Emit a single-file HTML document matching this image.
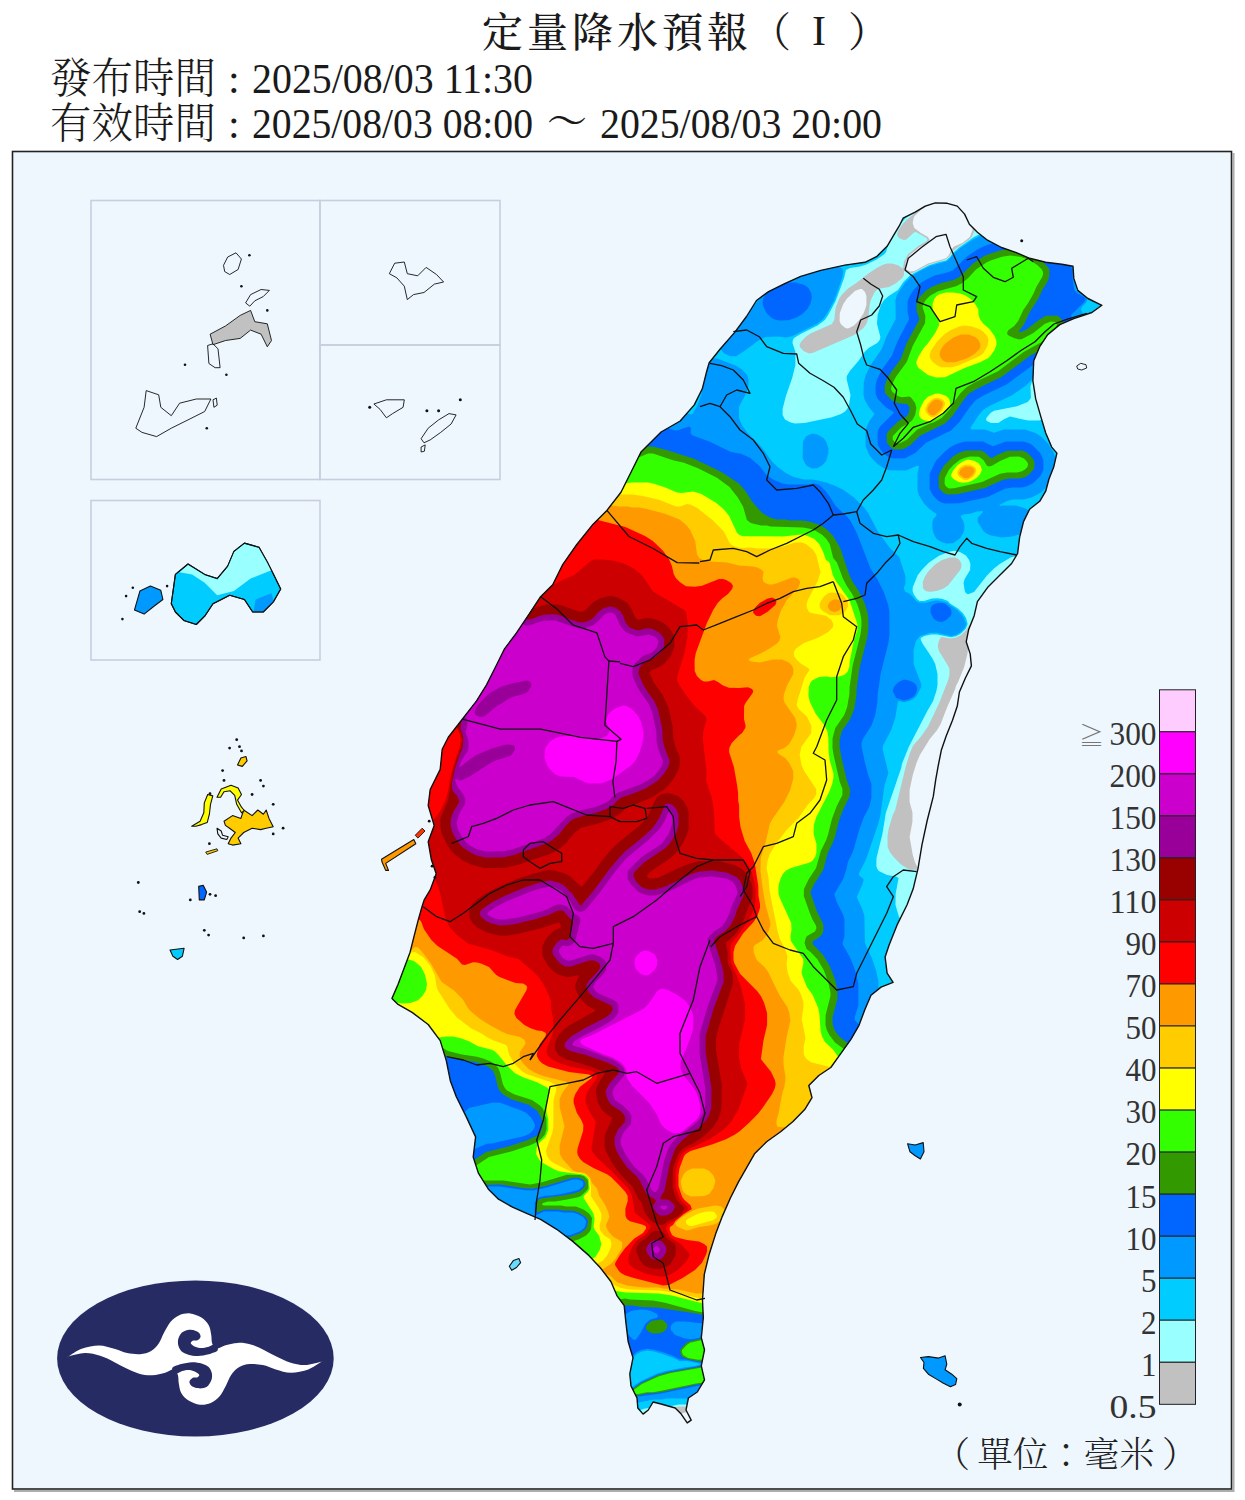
<!DOCTYPE html>
<html><head><meta charset="utf-8"><title>定量降水預報</title>
<style>
html,body{margin:0;padding:0;background:#fff;}
body{width:1245px;height:1500px;position:relative;overflow:hidden;font-family:"Liberation Serif","Noto Serif CJK SC",serif;}
</style></head><body>
<svg width="1245" height="1500" viewBox="0 0 1245 1500" style="position:absolute;left:0;top:0">
<defs><clipPath id="tw"><path d="M424.2,899.9 L430.2,889.9 L436.2,873.8 L431.4,859.8 L428.2,841.7 L434.2,825.6 L428.2,805.5 L430.2,789.5 L440.2,769.4 L442.2,749.3 L448.3,737.3 L462.3,719.2 L476.4,701.1 L486.4,685.1 L496.5,665.0 L504.5,648.9 L516.5,632.9 L528.6,614.8 L540.6,596.7 L552.7,584.7 L562.7,564.6 L576.8,544.5 L592.9,524.4 L606.9,510.4 L621.0,492.3 L631.0,472.2 L641.0,452.1 L661.1,432.0 L680.2,421.0 L694.3,404.9 L702.3,388.8 L706.3,372.8 L709.2,362.7 L720.4,348.7 L734.5,332.6 L746.5,316.5 L756.5,300.5 L768.6,291.6 L784.7,283.6 L800.7,276.4 L820.8,270.4 L844.9,265.1 L865.0,262.3 L877.0,256.3 L887.1,246.3 L893.1,236.2 L899.1,226.2 L903.1,218.2 L915.2,212.1 L925.2,206.1 L935.3,202.9 L947.3,203.3 L957.3,206.1 L964.6,214.1 L969.4,224.2 L977.4,232.2 L987.5,240.2 L1001.5,247.5 L1015.6,252.3 L1029.6,258.3 L1045.7,262.3 L1061.8,264.3 L1073.0,266.3 L1073.8,278.4 L1077.8,290.4 L1087.9,298.5 L1101.9,305.3 L1091.9,312.5 L1073.8,318.6 L1059.8,324.6 L1047.7,334.6 L1039.7,346.7 L1033.7,360.7 L1032.9,380.8 L1035.7,398.9 L1040.9,416.9 L1045.7,433.0 L1051.7,447.1 L1056.9,453.1 L1053.7,467.1 L1048.9,479.2 L1045.7,491.2 L1039.7,501.3 L1029.6,509.3 L1023.6,521.4 L1019.6,537.4 L1017.6,553.5 L1011.6,563.5 L999.5,575.6 L987.5,587.6 L977.4,601.7 L974.2,615.7 L968.6,629.8 L966.2,641.8 L970.2,653.9 L971.4,665.9 L965.4,678.0 L959.4,692.0 L957.3,706.1 L952.5,720.2 L946.1,736.2 L941.3,750.3 L938.1,766.3 L935.7,779.9 L933.3,796.4 L927.2,820.5 L922.0,844.6 L918.0,868.7 L913.2,888.8 L907.1,904.8 L897.1,924.9 L889.1,945.0 L885.1,957.0 L887.1,973.1 L893.1,982.3 L881.0,987.1 L871.0,995.2 L865.0,1009.2 L859.0,1025.3 L850.9,1039.4 L840.9,1053.4 L830.8,1067.5 L818.8,1075.5 L808.8,1085.5 L812.0,1097.6 L804.7,1109.6 L792.7,1121.7 L780.6,1131.7 L766.6,1141.8 L754.5,1153.8 L746.5,1167.9 L738.5,1181.9 L730.4,1198.0 L722.4,1216.1 L715.6,1234.1 L709.2,1254.2 L704.3,1274.3 L702.5,1300.0 L703.3,1317.7 L701.3,1337.8 L704.5,1349.8 L701.3,1365.9 L704.5,1379.9 L697.3,1392.0 L688.4,1398.0 L686.0,1410.0 L691.2,1420.1 L687.2,1422.9 L681.2,1414.1 L675.2,1408.0 L661.1,1404.0 L653.1,1402.0 L648.3,1410.0 L643.1,1414.1 L637.8,1408.0 L637.0,1398.0 L631.0,1385.9 L629.8,1373.9 L633.0,1357.8 L628.2,1341.8 L625.8,1321.7 L624.2,1305.6 L616.9,1295.6 L610.9,1281.5 L600.1,1267.5 L588.8,1255.4 L572.8,1241.4 L556.7,1229.3 L540.6,1219.3 L526.6,1213.3 L512.5,1207.2 L498.5,1199.2 L488.4,1189.2 L478.4,1173.1 L473.2,1157.0 L475.6,1136.9 L466.3,1116.9 L456.3,1096.8 L450.3,1080.7 L446.3,1060.6 L440.2,1040.6 L428.2,1024.5 L412.1,1012.4 L398.1,1004.4 L392.0,998.4 L398.1,984.3 L404.1,968.3 L410.1,952.2 L414.1,936.1 L418.2,920.1 L422.2,906.0Z"/></clipPath></defs>
<rect x="12.5" y="151.5" width="1219" height="1337.5" fill="#eef7fd" stroke="#222" stroke-width="1.6"/>
<path d="M14,1491 H1233.5 V153" fill="none" stroke="#777" stroke-width="2" opacity="0.6"/>
<rect x="91" y="200.5" width="229" height="279" fill="none" stroke="#c9cde0" stroke-width="1.6"/>
<rect x="320" y="200.5" width="180" height="144.5" fill="none" stroke="#c9cde0" stroke-width="1.6"/>
<rect x="320" y="345" width="180" height="134.5" fill="none" stroke="#c9cde0" stroke-width="1.6"/>
<rect x="91" y="500.5" width="229" height="159.5" fill="none" stroke="#c9cde0" stroke-width="1.6"/>
<g clip-path="url(#tw)">
<path d="M424.2,899.9 L430.2,889.9 L436.2,873.8 L431.4,859.8 L428.2,841.7 L434.2,825.6 L428.2,805.5 L430.2,789.5 L440.2,769.4 L442.2,749.3 L448.3,737.3 L462.3,719.2 L476.4,701.1 L486.4,685.1 L496.5,665.0 L504.5,648.9 L516.5,632.9 L528.6,614.8 L540.6,596.7 L552.7,584.7 L562.7,564.6 L576.8,544.5 L592.9,524.4 L606.9,510.4 L621.0,492.3 L631.0,472.2 L641.0,452.1 L661.1,432.0 L680.2,421.0 L694.3,404.9 L702.3,388.8 L706.3,372.8 L709.2,362.7 L720.4,348.7 L734.5,332.6 L746.5,316.5 L756.5,300.5 L768.6,291.6 L784.7,283.6 L800.7,276.4 L820.8,270.4 L844.9,265.1 L865.0,262.3 L877.0,256.3 L887.1,246.3 L893.1,236.2 L899.1,226.2 L903.1,218.2 L915.2,212.1 L925.2,206.1 L935.3,202.9 L947.3,203.3 L957.3,206.1 L964.6,214.1 L969.4,224.2 L977.4,232.2 L987.5,240.2 L1001.5,247.5 L1015.6,252.3 L1029.6,258.3 L1045.7,262.3 L1061.8,264.3 L1073.0,266.3 L1073.8,278.4 L1077.8,290.4 L1087.9,298.5 L1101.9,305.3 L1091.9,312.5 L1073.8,318.6 L1059.8,324.6 L1047.7,334.6 L1039.7,346.7 L1033.7,360.7 L1032.9,380.8 L1035.7,398.9 L1040.9,416.9 L1045.7,433.0 L1051.7,447.1 L1056.9,453.1 L1053.7,467.1 L1048.9,479.2 L1045.7,491.2 L1039.7,501.3 L1029.6,509.3 L1023.6,521.4 L1019.6,537.4 L1017.6,553.5 L1011.6,563.5 L999.5,575.6 L987.5,587.6 L977.4,601.7 L974.2,615.7 L968.6,629.8 L966.2,641.8 L970.2,653.9 L971.4,665.9 L965.4,678.0 L959.4,692.0 L957.3,706.1 L952.5,720.2 L946.1,736.2 L941.3,750.3 L938.1,766.3 L935.7,779.9 L933.3,796.4 L927.2,820.5 L922.0,844.6 L918.0,868.7 L913.2,888.8 L907.1,904.8 L897.1,924.9 L889.1,945.0 L885.1,957.0 L887.1,973.1 L893.1,982.3 L881.0,987.1 L871.0,995.2 L865.0,1009.2 L859.0,1025.3 L850.9,1039.4 L840.9,1053.4 L830.8,1067.5 L818.8,1075.5 L808.8,1085.5 L812.0,1097.6 L804.7,1109.6 L792.7,1121.7 L780.6,1131.7 L766.6,1141.8 L754.5,1153.8 L746.5,1167.9 L738.5,1181.9 L730.4,1198.0 L722.4,1216.1 L715.6,1234.1 L709.2,1254.2 L704.3,1274.3 L702.5,1300.0 L703.3,1317.7 L701.3,1337.8 L704.5,1349.8 L701.3,1365.9 L704.5,1379.9 L697.3,1392.0 L688.4,1398.0 L686.0,1410.0 L691.2,1420.1 L687.2,1422.9 L681.2,1414.1 L675.2,1408.0 L661.1,1404.0 L653.1,1402.0 L648.3,1410.0 L643.1,1414.1 L637.8,1408.0 L637.0,1398.0 L631.0,1385.9 L629.8,1373.9 L633.0,1357.8 L628.2,1341.8 L625.8,1321.7 L624.2,1305.6 L616.9,1295.6 L610.9,1281.5 L600.1,1267.5 L588.8,1255.4 L572.8,1241.4 L556.7,1229.3 L540.6,1219.3 L526.6,1213.3 L512.5,1207.2 L498.5,1199.2 L488.4,1189.2 L478.4,1173.1 L473.2,1157.0 L475.6,1136.9 L466.3,1116.9 L456.3,1096.8 L450.3,1080.7 L446.3,1060.6 L440.2,1040.6 L428.2,1024.5 L412.1,1012.4 L398.1,1004.4 L392.0,998.4 L398.1,984.3 L404.1,968.3 L410.1,952.2 L414.1,936.1 L418.2,920.1 L422.2,906.0Z" fill="#00ccff"/>
<path d="M424.2,899.9 L430.2,889.9 L436.2,873.8 L431.4,859.8 L428.2,841.7 L434.2,825.6 L428.2,805.5 L430.2,789.5 L440.2,769.4 L442.2,749.3 L448.3,737.3 L462.3,719.2 L476.4,701.1 L486.4,685.1 L496.5,665.0 L504.5,648.9 L516.5,632.9 L528.6,614.8 L540.6,596.7 L552.7,584.7 L562.7,564.6 L576.8,544.5 L592.9,524.4 L606.9,510.4 L621.0,492.3 L631.0,472.2 L641.0,452.1 L661.1,432.0 L680.2,421.0 L694.3,404.9 L702.3,388.8 L706.3,372.8 L709.2,362.7 L720.4,348.7 L734.5,332.6 L746.5,316.5 L756.5,300.5 L768.6,291.6 L784.7,283.6 L800.7,276.4 L820.8,270.4 L844.9,265.1 L865.0,262.3 L877.0,256.3 L887.1,246.3 L893.1,236.2 L899.1,226.2 L903.1,218.2 L915.2,212.1 L925.2,206.1 L935.3,202.9 L947.3,203.3 L957.3,206.1 L964.6,214.1 L969.4,224.2 L977.4,232.2 L987.5,240.2 L1001.5,247.5 L1015.6,252.3 L1029.6,258.3 L1045.7,262.3 L1061.8,264.3 L1073.0,266.3 L1073.8,278.4 L1077.8,290.4 L1087.9,298.5 L1101.9,305.3 L1091.9,312.5 L1073.8,318.6 L1059.8,324.6 L1047.7,334.6 L1039.7,346.7 L1033.7,360.7 L1032.9,380.8 L1035.7,398.9 L1040.9,416.9 L1045.7,433.0 L1051.7,447.1 L1056.9,453.1 L1053.7,467.1 L1048.9,479.2 L1045.7,491.2 L1039.7,501.3 L1029.6,509.3 L1023.6,521.4 L1019.6,537.4 L1017.6,553.5 L1011.6,563.5 L999.5,575.6 L987.5,587.6 L977.4,601.7 L974.2,615.7 L968.6,629.8 L966.2,641.8 L970.2,653.9 L971.4,665.9 L965.4,678.0 L959.4,692.0 L957.3,706.1 L952.5,720.2 L946.1,736.2 L941.3,750.3 L938.1,766.3 L935.7,779.9 L933.3,796.4 L927.2,820.5 L922.0,844.6 L918.0,868.7 L913.2,888.8 L907.1,904.8 L897.1,924.9 L889.1,945.0 L885.1,957.0 L887.1,973.1 L893.1,982.3 L881.0,987.1 L871.0,995.2 L865.0,1009.2 L859.0,1025.3 L850.9,1039.4 L840.9,1053.4 L830.8,1067.5 L818.8,1075.5 L808.8,1085.5 L812.0,1097.6 L804.7,1109.6 L792.7,1121.7 L780.6,1131.7 L766.6,1141.8 L754.5,1153.8 L746.5,1167.9 L738.5,1181.9 L730.4,1198.0 L722.4,1216.1 L715.6,1234.1 L709.2,1254.2 L704.3,1274.3 L702.5,1300.0 L703.3,1317.7 L701.3,1337.8 L704.5,1349.8 L701.3,1365.9 L704.5,1379.9 L697.3,1392.0 L688.4,1398.0 L686.0,1410.0 L691.2,1420.1 L687.2,1422.9 L681.2,1414.1 L675.2,1408.0 L661.1,1404.0 L653.1,1402.0 L648.3,1410.0 L643.1,1414.1 L637.8,1408.0 L637.0,1398.0 L631.0,1385.9 L629.8,1373.9 L633.0,1357.8 L628.2,1341.8 L625.8,1321.7 L624.2,1305.6 L616.9,1295.6 L610.9,1281.5 L600.1,1267.5 L588.8,1255.4 L572.8,1241.4 L556.7,1229.3 L540.6,1219.3 L526.6,1213.3 L512.5,1207.2 L498.5,1199.2 L488.4,1189.2 L478.4,1173.1 L473.2,1157.0 L475.6,1136.9 L466.3,1116.9 L456.3,1096.8 L450.3,1080.7 L446.3,1060.6 L440.2,1040.6 L428.2,1024.5 L412.1,1012.4 L398.1,1004.4 L392.0,998.4 L398.1,984.3 L404.1,968.3 L410.1,952.2 L414.1,936.1 L418.2,920.1 L422.2,906.0Z" fill="#eef7fd"/>
<path d="M1114.0,1434.2 374.8,1434.0 375.0,189.8 1114.2,190.0ZM914.4,271.0 928.0,263.5 946.0,258.2 949.0,255.1 951.1,250.0 954.0,246.6 962.3,243.0 969.8,237.0 972.5,230.0 972.4,226.0 971.2,221.0 967.0,212.6 961.8,207.0 953.0,202.8 946.0,201.6 942.0,201.6 935.3,203.0 925.5,207.0 920.9,210.0 914.7,216.0 913.6,218.0 912.7,223.0 914.3,228.0 921.0,233.1 928.0,236.9 929.7,240.0 928.0,242.6 920.0,246.9 910.9,254.0 908.9,256.0 907.0,259.5 905.6,263.0 905.9,269.0 910.0,271.4ZM849.3,328.0 854.0,325.4 859.4,320.0 863.7,313.0 865.2,309.0 866.4,305.0 866.4,296.0 865.0,291.9 862.0,289.0 860.0,288.9 854.9,291.0 847.0,298.5 843.3,304.0 839.8,313.0 839.6,321.0 840.8,324.0 845.0,327.7 847.0,328.4ZM930.0,878.0 931.3,874.0 931.5,866.0 934.1,847.0 934.3,841.0 938.4,814.0 940.4,805.0 965.4,709.0 975.0,678.3 979.1,659.0 983.9,632.0 986.2,612.0 987.0,597.0 986.0,594.6 985.0,594.4 981.9,599.0 978.0,608.3 975.7,621.0 970.6,628.0 967.4,654.0 964.2,667.0 958.1,682.0 955.9,686.0 955.2,689.0 946.8,708.0 940.7,724.0 937.0,730.3 929.8,739.0 919.9,755.0 916.5,763.0 912.8,775.0 909.6,790.0 909.6,802.0 912.4,812.0 912.5,815.0 912.4,822.0 909.6,837.0 912.8,855.0 914.9,862.0 916.8,866.0 923.0,875.2 927.0,878.5 929.0,878.7ZM691.4,1425.0 694.0,1423.6 695.3,1421.0 694.2,1416.0 693.0,1414.0 689.0,1411.8 683.0,1412.9 680.0,1414.8 679.6,1420.0 681.0,1422.2 684.0,1424.1Z" fill="#c1c1c1" fill-rule="evenodd"/>
<path d="M1114.0,1434.1 374.9,1434.0 375.0,189.9 1114.1,190.0ZM812.5,353.0 852.0,336.1 857.2,333.0 863.5,328.0 866.0,324.5 868.2,319.0 869.6,305.0 870.8,300.0 874.8,292.0 876.7,290.0 880.0,288.6 889.0,287.1 896.0,283.2 902.2,278.0 904.0,275.0 904.0,271.4 905.0,271.1 909.0,273.0 913.0,272.9 929.0,264.4 946.0,259.6 949.7,256.0 953.0,250.7 970.0,239.0 971.8,237.0 974.1,232.0 974.2,226.0 972.3,220.0 968.7,213.0 964.0,207.2 959.0,203.6 953.0,201.2 945.0,199.9 937.0,200.8 929.0,203.4 924.0,206.0 907.0,219.5 903.0,223.6 898.0,231.0 897.1,235.0 899.0,237.9 903.0,239.8 906.0,239.7 914.0,232.6 916.0,232.0 926.5,238.0 927.4,239.0 927.0,241.0 919.0,245.4 908.0,254.3 903.9,262.0 903.0,268.8 898.0,265.3 892.0,263.6 887.0,263.6 883.0,264.8 877.0,267.8 868.0,273.8 856.3,283.0 848.0,288.5 841.6,295.0 839.0,299.0 835.6,308.0 834.2,320.0 832.0,323.9 810.0,333.8 806.0,336.6 800.8,342.0 799.6,345.0 799.9,347.0 803.5,351.0 809.0,353.4ZM936.5,591.0 943.0,588.7 948.0,585.4 960.2,570.0 961.4,567.0 961.4,564.0 960.2,561.0 958.0,558.8 955.0,557.6 950.0,557.5 942.0,559.9 935.0,564.6 927.8,572.0 924.7,577.0 922.8,582.0 922.9,588.0 925.0,590.4 927.0,591.4 931.0,591.8ZM929.5,880.0 931.6,878.0 932.6,875.0 933.6,858.0 935.4,847.0 935.6,841.0 939.6,815.0 941.8,805.0 966.8,709.0 976.1,679.0 980.4,659.0 987.2,621.0 989.0,604.0 988.3,596.0 987.0,593.5 985.0,592.0 982.8,594.0 977.3,605.0 975.7,610.0 974.0,620.4 972.2,623.0 969.0,625.5 966.0,630.3 961.0,635.0 956.0,637.6 951.0,638.6 942.0,636.9 940.3,638.0 938.9,641.0 937.7,646.0 938.9,651.0 948.2,666.0 949.4,669.0 949.4,675.0 948.2,680.0 939.2,703.0 928.0,726.5 921.4,736.0 913.0,745.8 909.9,753.0 905.9,766.0 895.2,810.0 892.8,815.0 888.6,829.0 887.5,836.0 887.6,847.0 889.8,852.0 893.6,857.0 901.0,864.4 909.9,870.0 915.0,869.6 917.0,870.3 919.0,872.9 920.0,876.2 921.8,878.0 926.3,880.0ZM692.4,1426.0 695.5,1424.0 696.8,1422.0 697.0,1420.0 695.2,1414.0 689.8,1408.0 687.0,1406.5 683.0,1406.4 677.0,1406.8 673.8,1408.0 673.1,1410.0 677.0,1415.6 678.0,1421.0 680.0,1423.7 684.0,1425.6 689.0,1426.4Z" fill="#99ffff" fill-rule="evenodd"/>
<path d="M1114.0,1434.0 375.0,1434.0 375.0,190.0 1114.0,190.0ZM804.5,423.0 832.0,417.2 841.0,414.1 845.0,411.4 847.2,409.0 849.2,404.0 850.5,395.0 846.6,379.0 846.8,376.0 850.0,370.7 858.4,361.0 865.0,351.5 869.0,347.8 877.3,343.0 879.7,340.0 880.4,337.0 877.0,324.0 877.6,315.0 880.8,305.0 884.0,300.1 888.7,296.0 898.0,290.1 903.4,282.0 910.4,275.0 929.0,265.3 939.0,262.0 946.0,260.5 950.0,257.0 953.0,252.7 959.0,247.6 974.0,236.9 981.9,233.0 982.0,231.4 978.0,228.2 976.0,225.1 969.0,211.0 962.0,203.7 956.0,200.5 948.0,198.4 935.0,198.8 925.0,202.7 914.0,212.1 906.0,217.8 898.3,226.0 895.7,230.0 887.8,246.0 886.1,252.0 884.0,254.4 877.0,259.2 867.0,264.2 860.0,266.4 850.0,267.9 846.0,270.1 844.1,278.0 835.6,301.0 828.2,315.0 825.0,319.7 818.0,325.2 800.5,334.0 794.0,338.1 792.9,340.0 792.5,343.0 795.4,352.0 795.4,365.0 792.2,378.0 785.9,396.0 782.6,409.0 782.6,415.0 785.0,419.4 790.0,422.2 795.0,423.5ZM998.3,423.0 1004.0,419.3 1010.0,416.6 1028.0,420.5 1039.0,420.4 1043.4,419.0 1046.0,417.2 1048.5,411.0 1048.5,396.0 1047.5,390.0 1047.6,384.0 1048.5,380.0 1048.0,372.4 1047.0,372.0 1042.5,374.0 1031.9,382.0 1030.5,386.0 1030.9,398.0 1027.7,402.0 1017.0,406.2 994.0,410.8 990.5,413.0 986.3,418.0 986.1,420.0 986.9,421.0 991.0,423.1ZM902.0,918.0 905.2,913.0 918.0,881.4 919.0,880.8 926.0,881.8 930.0,881.3 932.0,879.8 933.6,877.0 936.9,841.0 940.9,815.0 946.0,792.6 953.6,766.0 957.0,750.6 962.6,732.0 968.0,709.6 977.5,679.0 987.8,628.0 990.6,612.0 990.9,602.0 990.7,599.0 987.5,590.0 989.5,587.0 1010.0,566.5 1018.0,559.5 1019.1,557.0 1018.0,555.8 1011.0,557.3 999.7,564.0 994.0,568.6 987.0,575.5 974.0,591.9 968.0,594.3 966.0,593.2 964.8,591.0 963.5,583.0 964.7,579.0 970.1,570.0 970.4,564.0 969.1,560.0 966.0,555.6 960.0,551.9 954.0,550.7 949.0,551.8 939.0,555.8 929.0,562.5 922.6,569.0 917.8,575.0 912.8,587.0 912.6,591.0 913.6,594.0 917.0,599.0 919.7,601.0 924.0,601.0 932.0,598.5 937.0,598.3 942.0,598.7 948.0,601.0 950.0,603.5 958.0,608.4 963.0,613.3 966.1,618.0 967.7,624.0 966.1,628.0 964.5,630.0 960.3,634.0 956.0,636.2 951.0,637.3 937.0,634.6 931.0,634.5 924.3,636.0 920.7,638.0 920.8,640.0 922.8,644.0 932.2,658.0 935.2,664.0 937.5,674.0 937.5,685.0 936.4,691.0 933.1,701.0 927.3,711.0 908.7,747.0 901.9,764.0 901.2,768.0 885.8,813.0 882.4,834.0 876.5,858.0 876.3,866.0 877.3,869.0 878.8,871.0 887.0,875.1 896.0,876.6 898.6,878.0 895.6,894.0 895.5,905.0 899.0,917.0 900.0,918.0ZM693.3,1427.0 696.0,1425.5 699.2,1422.0 701.1,1417.0 701.1,1415.0 699.2,1411.0 696.2,1408.0 687.0,1404.6 679.0,1404.6 669.0,1406.4 659.0,1406.6 644.0,1408.8 637.8,1411.0 633.6,1415.0 632.6,1417.0 633.8,1421.0 636.0,1423.2 640.0,1425.1 646.0,1426.4 655.0,1426.5 661.0,1427.5 683.0,1427.0 690.0,1427.8Z" fill="#00ccff" fill-rule="evenodd"/>
<path d="M953.0,543.2 946.0,543.4 941.0,541.7 936.6,539.0 934.0,534.4 932.6,530.0 932.3,523.0 933.3,519.0 936.1,516.0 936.6,514.0 930.0,509.4 924.0,503.5 918.8,495.0 917.5,490.0 917.5,474.0 919.0,466.0 917.0,465.8 906.0,470.4 889.0,470.2 883.5,468.0 878.0,464.4 871.6,458.0 868.8,454.0 865.6,446.0 865.6,430.0 868.8,422.0 874.5,414.0 868.8,407.0 864.8,400.0 863.5,395.0 863.8,382.0 865.8,375.0 870.7,365.0 881.7,349.0 886.3,337.0 895.7,319.0 895.5,300.0 896.8,295.0 905.0,282.9 911.8,276.0 920.0,271.0 930.2,266.0 947.0,261.3 954.0,253.8 960.6,248.0 974.0,238.9 987.0,232.5 1001.0,228.5 1019.0,228.5 1027.0,229.8 1039.0,233.7 1045.0,236.8 1055.0,243.6 1063.4,252.0 1070.0,262.9 1073.2,267.0 1074.3,270.0 1074.5,279.0 1076.0,289.4 1077.0,291.0 1079.9,293.0 1085.0,295.4 1086.6,297.0 1087.3,299.0 1086.6,302.0 1081.8,307.0 1080.9,309.0 1084.4,318.0 1084.2,332.0 1082.2,338.0 1078.2,346.0 1075.4,350.0 1068.0,357.4 1062.0,362.2 1054.0,367.2 1040.0,373.4 1032.3,379.0 1026.0,385.4 1012.0,395.2 990.0,405.7 983.0,409.9 978.8,415.0 970.3,428.0 970.7,429.0 972.0,429.4 985.0,429.6 994.0,432.7 1004.0,429.6 1025.0,429.5 1036.0,433.3 1041.0,436.6 1048.0,443.5 1053.3,452.0 1055.4,458.0 1055.2,473.0 1053.0,478.5 1049.4,484.0 1042.0,491.4 1038.0,494.2 1032.0,497.2 1024.0,499.4 1013.0,499.6 1007.0,500.9 999.5,505.0 1000.0,506.0 1003.0,505.5 1016.0,505.6 1026.0,508.8 1031.2,512.0 1033.2,515.0 1034.0,519.0 1032.1,525.0 1028.0,530.2 1020.0,534.2 1012.0,536.4 1002.0,537.5 990.0,535.2 986.0,533.2 983.0,530.5 977.8,522.0 977.6,519.0 978.3,517.0 982.3,513.0 983.0,511.0 977.0,511.6 971.0,513.4 963.0,514.6 961.0,515.8 960.9,517.0 963.2,521.0 964.4,525.0 964.2,530.0 962.7,534.0 960.0,538.2ZM736.0,356.2 730.0,356.2 724.0,353.2 720.3,349.0 719.6,347.0 719.9,345.0 724.5,340.0 735.0,331.2 757.0,301.8 767.0,290.8 772.0,286.8 785.0,279.8 802.0,273.8 806.0,273.1 822.0,266.8 828.0,265.6 833.0,265.6 839.0,266.8 842.4,269.0 843.4,271.0 842.4,277.0 836.2,295.0 834.0,300.4 827.0,313.5 823.1,319.0 816.5,324.0 792.0,336.3 786.0,337.5 779.0,336.5 765.7,337.0 758.0,340.8 744.0,351.2ZM710.0,1408.1 708.0,1407.8 704.0,1402.6 700.1,1400.0 693.0,1398.5 666.0,1398.5 662.0,1399.4 654.0,1399.6 636.0,1402.9 630.0,1406.0 626.7,1405.0 623.6,1402.0 623.1,1400.0 628.4,1394.0 629.2,1390.0 634.0,1385.6 642.0,1380.5 657.0,1373.5 665.0,1371.2 685.0,1367.2 695.1,1366.0 701.1,1364.0 687.0,1360.9 680.0,1361.3 673.5,1358.0 662.7,1354.0 654.0,1351.6 647.0,1350.6 641.0,1351.8 636.9,1354.0 632.9,1358.0 629.0,1366.2 628.0,1366.9 627.0,1366.6 624.5,1362.0 621.9,1354.0 621.4,1349.0 620.6,1348.0 605.0,1347.2 595.0,1344.2 585.0,1339.2 576.5,1333.0 549.3,1305.0 508.0,1278.2 464.0,1246.4 453.5,1237.0 439.6,1222.0 431.8,1211.0 426.7,1202.0 413.8,1175.0 401.8,1145.0 392.8,1118.0 388.8,1105.0 386.6,1095.0 386.5,1078.0 385.5,1074.0 383.0,1069.7 379.5,1066.0 378.0,1064.9 375.0,1064.5 375.0,744.0 375.0,740.5 379.7,729.0 394.8,702.0 429.2,652.0 507.8,525.0 534.2,484.0 550.8,456.0 562.8,438.0 572.6,425.0 583.5,414.0 589.0,409.8 601.0,403.8 612.0,400.6 632.0,400.6 647.0,405.4 662.0,405.6 686.0,413.2 691.0,414.4 692.6,414.0 697.1,406.0 701.2,395.0 705.8,366.0 707.8,362.0 710.0,359.6 712.0,358.6 715.0,358.5 718.0,358.8 736.0,365.7 742.0,369.6 747.1,375.0 748.4,379.0 748.4,386.0 745.7,394.0 738.9,407.0 738.9,418.0 741.9,425.0 747.0,432.3 761.4,447.0 772.0,461.5 777.0,466.4 785.8,473.0 793.6,477.0 804.0,479.4 812.0,479.6 818.0,480.6 827.0,482.8 835.0,485.8 843.0,489.8 854.0,497.6 864.0,507.5 868.2,513.0 877.5,531.0 890.0,548.3 899.2,557.0 905.4,576.0 905.4,584.0 903.7,588.0 905.0,591.6 909.0,593.6 912.0,596.0 916.1,601.0 919.0,602.8 926.0,602.8 934.0,600.7 938.0,600.6 946.0,602.3 957.0,609.9 961.2,614.0 964.1,618.0 966.0,624.0 965.0,627.3 963.7,629.0 959.4,633.0 955.4,635.0 951.0,636.0 937.0,632.7 930.0,632.7 920.0,635.9 915.9,641.0 913.6,650.0 913.6,664.0 921.2,684.0 921.2,687.0 916.6,696.0 913.0,699.2 909.0,701.1 904.0,702.2 899.0,701.0 898.0,701.4 895.2,718.0 891.2,730.0 882.9,746.0 882.6,749.0 888.4,773.0 884.6,785.0 880.4,815.0 878.2,824.0 866.2,859.0 858.7,874.0 859.6,876.0 863.0,878.6 863.6,880.0 862.2,885.0 856.7,897.0 862.2,909.0 864.4,916.0 864.9,943.0 872.2,959.0 876.2,971.0 878.4,981.0 878.5,1009.0 880.0,1010.7 894.0,1016.7 900.3,1021.0 908.4,1029.0 912.7,1035.0 918.2,1046.0 920.4,1053.0 920.5,1077.0 919.2,1083.0 911.3,1103.0 901.0,1123.5 889.2,1145.0 840.8,1227.0 814.2,1274.0 785.0,1321.3 775.0,1334.5 761.5,1348.0 756.0,1352.2 748.0,1356.2 735.0,1360.2 715.0,1360.6 710.6,1363.0 710.5,1364.0 713.6,1366.0 715.8,1369.0 716.5,1372.0 715.0,1379.0 719.0,1383.7 720.7,1387.0 721.5,1393.0 721.2,1396.0 719.0,1401.3 714.3,1406.0ZM817.0,468.2 812.0,468.4 807.0,466.1 805.3,464.0 802.6,458.0 803.0,441.6 806.0,436.6 809.0,434.8 813.0,433.6 818.0,434.8 823.5,438.0 826.3,442.0 828.4,448.0 828.4,453.0 826.2,461.0 822.0,465.4Z" fill="#0099ff" fill-rule="evenodd"/>
<path d="M905.0,458.2 893.0,458.5 889.0,457.3 886.0,455.4 881.0,450.5 877.8,445.0 877.5,433.0 878.7,429.0 880.6,426.0 893.7,413.0 893.7,412.0 886.0,407.4 877.8,399.0 875.6,394.0 875.5,386.0 876.8,380.0 881.7,370.0 891.7,356.0 897.7,341.0 908.7,320.0 909.0,318.0 907.5,312.0 907.6,301.0 910.3,295.0 913.6,290.0 920.0,283.6 926.0,279.7 934.0,275.8 948.0,272.2 953.0,270.2 967.0,256.6 977.0,249.8 985.0,245.8 1002.0,240.6 1018.0,240.6 1032.0,243.8 1040.0,247.8 1046.0,251.8 1056.0,261.1 1062.0,261.8 1068.0,263.8 1071.1,267.0 1072.4,270.0 1072.7,280.0 1074.3,290.0 1077.0,293.3 1084.1,297.0 1085.0,298.0 1085.4,300.0 1084.0,302.2 1071.1,315.0 1072.4,320.0 1072.4,329.0 1070.7,334.0 1066.4,342.0 1060.0,348.4 1054.3,353.0 1036.0,362.8 1007.0,384.2 985.0,394.7 975.8,400.0 970.0,406.7 959.4,422.0 951.0,430.4 926.0,442.8 915.3,453.0ZM788.0,320.2 779.0,320.4 774.0,319.2 771.0,317.4 766.6,313.0 764.8,310.0 762.6,304.0 763.0,298.4 766.3,294.0 772.0,289.0 782.1,284.0 788.0,282.6 796.0,282.5 805.0,285.3 808.4,288.0 811.2,293.0 811.8,298.0 810.3,304.0 807.4,309.0 802.3,314.0 796.0,317.7ZM628.0,1363.5 626.9,1363.0 623.8,1354.0 623.1,1348.0 621.7,1345.0 619.3,1329.0 618.5,1328.0 609.0,1327.4 604.0,1326.2 599.0,1324.3 593.7,1321.0 588.0,1316.5 562.0,1289.6 554.0,1283.8 520.0,1262.2 488.7,1240.0 469.0,1224.4 455.6,1210.0 447.8,1199.0 436.7,1178.0 420.8,1139.0 407.6,1097.0 406.5,1091.0 406.5,1075.0 405.1,1066.0 398.4,1057.0 385.0,1043.6 383.0,1043.0 375.0,1044.5 375.0,1043.0 375.0,818.5 382.8,780.0 386.8,766.0 392.8,749.0 398.7,735.0 410.8,714.0 445.2,664.0 523.8,537.0 550.2,496.0 566.8,468.0 578.8,450.0 588.6,437.0 596.7,429.0 601.0,425.8 607.0,422.8 617.0,420.5 629.0,420.6 637.0,422.8 643.0,425.4 659.0,425.6 675.0,430.4 678.0,430.2 689.0,426.6 691.0,428.0 690.6,433.0 692.0,435.3 710.0,441.8 731.0,452.1 741.0,453.8 750.0,457.8 759.5,466.0 766.5,475.0 774.0,480.1 782.0,483.2 788.0,484.4 808.0,484.5 814.0,483.5 819.0,484.8 825.0,490.5 829.4,496.0 835.6,506.0 847.4,517.0 851.2,522.0 857.2,534.0 870.3,568.0 877.2,579.0 884.0,592.6 888.2,605.0 889.4,612.0 889.5,634.0 888.4,643.0 880.6,674.0 877.6,695.0 877.4,702.0 875.2,715.0 871.3,726.0 862.8,739.0 861.5,743.0 861.6,747.0 864.8,762.0 867.9,774.0 871.4,784.0 871.4,798.0 869.2,807.0 863.9,817.0 859.8,828.0 853.2,851.0 847.9,862.0 846.2,870.0 843.2,879.0 834.3,894.0 836.8,902.0 843.0,914.6 844.4,919.0 844.5,936.0 842.6,943.0 842.9,945.0 849.3,956.0 853.2,965.0 856.2,974.0 858.4,984.0 858.4,1005.0 854.8,1017.0 854.7,1020.0 859.0,1024.4 866.0,1029.1 872.0,1029.6 880.0,1031.8 884.0,1033.8 889.0,1037.6 896.2,1046.0 899.2,1052.0 900.5,1058.0 900.5,1074.0 899.2,1080.0 892.7,1096.0 884.7,1112.0 873.2,1133.0 824.8,1215.0 798.2,1262.0 775.2,1300.0 759.4,1322.0 749.0,1332.4 742.0,1337.2 731.0,1340.4 715.2,1341.0 715.6,1355.0 713.8,1359.0 709.0,1362.2 700.0,1362.4 686.0,1359.6 680.0,1359.4 674.0,1356.3 664.0,1352.5 654.0,1349.7 647.0,1348.7 641.0,1349.9 636.0,1352.4 631.4,1357.0ZM959.0,503.2 945.0,503.5 941.0,502.3 938.0,500.4 932.6,495.0 929.6,489.0 929.6,474.0 934.7,463.0 936.6,460.0 945.5,451.0 951.0,446.8 957.0,443.8 965.0,441.5 983.0,441.6 993.0,446.3 1006.0,441.6 1023.0,441.5 1028.0,442.8 1032.0,444.8 1040.2,453.0 1043.4,460.0 1043.4,470.0 1040.4,476.0 1033.0,483.2 1027.0,486.2 1022.0,487.4 1012.0,487.5 1005.0,488.8 987.0,497.2ZM942.0,622.1 938.0,621.5 933.8,619.0 930.6,613.0 930.6,608.0 931.6,606.0 934.0,604.3 938.0,602.9 942.3,603.0 945.5,604.0 950.1,608.0 951.4,611.0 951.4,614.0 950.4,616.0 946.3,620.0ZM905.0,700.2 903.0,700.2 896.2,698.0 892.7,691.0 893.9,687.0 896.0,684.5 899.0,681.8 904.0,679.6 910.0,680.8 914.0,682.8 916.1,685.0 917.3,689.0 916.0,693.5 914.0,696.2 909.5,699.0ZM472.3,1150.0 487.0,1143.8 492.0,1143.4 524.0,1136.2 530.0,1133.2 533.4,1130.0 535.0,1126.0 534.7,1124.0 531.4,1118.0 526.0,1112.8 520.0,1109.9 500.0,1102.8 493.0,1102.6 469.0,1107.9 465.0,1111.8 463.6,1115.0 463.5,1136.0 464.9,1144.0 466.8,1148.0 469.0,1150.1ZM570.7,1235.0 580.5,1231.0 584.1,1228.0 585.2,1226.0 586.1,1221.0 583.1,1217.0 577.5,1214.0 573.0,1212.6 563.0,1212.4 558.0,1211.5 544.0,1211.6 536.0,1215.3 534.7,1213.0 534.7,1203.0 536.5,1199.0 540.0,1196.9 545.0,1195.7 552.0,1195.4 564.0,1193.4 578.4,1190.0 583.0,1186.0 583.4,1183.0 582.0,1181.0 578.0,1179.6 573.0,1179.6 545.0,1188.1 533.0,1190.4 526.0,1190.3 500.0,1186.5 488.0,1186.5 486.0,1187.4 486.0,1189.0 489.0,1193.0 496.9,1200.0 506.0,1207.1 522.5,1217.0 531.0,1221.2 535.0,1221.6 547.0,1227.8 557.0,1234.2 562.0,1235.5ZM636.4,1339.0 641.2,1332.0 645.3,1324.0 650.0,1319.8 657.0,1317.8 658.0,1316.0 656.9,1314.0 651.0,1310.9 646.0,1309.8 640.0,1309.6 631.0,1310.9 626.0,1314.1 624.6,1317.0 624.6,1322.0 627.8,1333.0 629.6,1336.0 633.0,1339.6 635.0,1339.9ZM693.8,1339.0 702.0,1337.3 711.8,1337.0 712.4,1332.0 711.0,1327.9 708.1,1325.0 705.0,1323.8 685.0,1321.5 676.0,1321.6 673.3,1323.0 671.4,1325.0 670.6,1327.0 670.9,1330.0 675.0,1335.1 685.0,1338.4 690.0,1339.2ZM640.0,1396.2 635.0,1396.8 632.0,1396.0 630.0,1393.0 630.5,1390.0 641.0,1382.3 658.0,1374.4 669.0,1371.4 704.0,1365.1 711.0,1365.4 714.6,1369.0 715.3,1372.0 714.8,1375.0 712.5,1381.0 711.0,1382.6 707.0,1384.5 697.0,1385.9 661.0,1393.6Z" fill="#0166ff" fill-rule="evenodd"/>
<path d="M903.0,449.2 894.0,449.4 891.5,448.0 886.9,443.0 886.6,434.0 888.0,431.5 898.0,421.6 907.0,415.9 909.1,412.0 909.4,407.0 907.0,403.9 898.0,403.2 892.0,400.4 884.9,393.0 884.6,387.0 885.8,382.0 889.8,374.0 900.7,359.0 906.7,343.0 919.1,320.0 919.1,318.0 916.6,311.0 916.5,304.0 917.3,301.0 920.0,296.7 926.0,290.6 932.0,286.7 942.0,282.8 953.0,280.2 959.0,277.2 973.0,263.6 983.0,256.8 987.0,254.8 999.0,250.8 1006.0,249.5 1015.0,249.5 1022.0,250.6 1031.0,253.3 1040.3,259.0 1048.7,268.0 1049.5,271.0 1049.2,277.0 1047.3,282.0 1042.3,290.0 1038.2,299.0 1029.8,312.0 1024.2,324.0 1019.1,331.0 1019.6,332.0 1021.0,332.1 1027.0,329.2 1039.0,319.8 1046.0,315.8 1057.0,315.6 1060.5,318.0 1063.4,322.0 1063.2,328.0 1060.0,335.3 1054.5,341.0 1048.3,346.0 1030.0,355.8 1001.0,377.2 979.0,387.7 969.8,393.0 966.0,396.7 952.4,416.0 945.0,423.4 920.0,435.8 910.0,445.4ZM726.0,1319.2 723.0,1319.4 718.0,1318.5 711.0,1319.4 705.0,1315.9 699.0,1314.0 657.0,1307.6 644.0,1307.2 632.0,1305.5 624.0,1305.5 616.0,1306.5 609.0,1304.7 603.0,1300.5 576.3,1273.0 565.0,1264.8 531.0,1243.2 491.0,1214.4 480.5,1205.0 470.8,1194.0 462.3,1180.0 452.8,1160.0 440.8,1130.0 429.8,1096.0 427.6,1086.0 427.5,1069.0 426.4,1061.0 424.7,1056.0 421.2,1050.0 414.0,1041.5 398.0,1025.5 385.0,1014.8 383.0,1014.4 378.5,1020.0 375.0,1022.4 375.0,955.5 382.4,923.0 388.4,892.0 390.4,879.0 393.6,841.0 396.6,820.0 403.6,787.0 407.8,772.0 417.8,746.0 429.8,725.0 464.2,675.0 542.8,548.0 569.2,507.0 585.8,479.0 595.8,464.0 604.6,452.0 611.0,445.6 616.0,442.8 621.0,441.6 626.0,442.3 630.0,441.9 643.0,447.4 649.0,446.5 654.0,446.8 669.0,450.8 694.0,458.8 721.0,471.8 739.0,483.6 746.0,491.7 751.8,501.0 757.6,508.0 763.0,513.4 769.0,517.1 776.0,519.4 785.0,519.5 790.0,520.5 802.0,520.5 809.0,521.6 820.0,524.9 826.0,528.8 833.0,535.7 840.3,548.0 849.3,575.0 852.8,582.0 858.7,591.0 864.2,602.0 867.2,611.0 868.4,618.0 868.5,628.0 867.4,637.0 859.6,668.0 856.6,689.0 856.4,696.0 854.2,709.0 850.2,719.0 841.9,731.0 839.6,740.0 839.6,747.0 841.6,758.0 846.8,780.0 850.4,790.0 849.4,797.0 843.8,808.0 838.9,821.0 835.2,836.0 833.2,842.0 827.8,853.0 823.2,870.0 814.3,884.0 810.9,891.0 810.6,893.0 816.8,911.0 822.7,923.0 823.5,926.0 823.4,931.0 822.2,934.0 819.0,937.4 813.1,941.0 812.4,943.0 813.5,945.0 823.0,954.7 829.7,966.0 835.2,980.0 837.4,990.0 837.4,999.0 832.6,1017.0 832.6,1024.0 833.8,1028.0 835.8,1032.0 839.8,1037.0 856.0,1049.2 859.0,1050.4 867.0,1050.8 871.0,1051.8 874.0,1053.6 877.2,1057.0 879.2,1061.0 879.4,1069.0 878.2,1074.0 872.3,1088.0 854.2,1122.0 761.2,1281.0 750.2,1298.0 743.0,1307.5 734.0,1316.4ZM957.0,494.2 947.0,494.5 943.5,493.0 938.9,488.0 938.5,477.0 939.3,474.0 943.6,466.0 953.0,456.6 959.0,452.8 966.0,450.6 981.0,450.6 984.3,452.0 990.0,457.4 992.0,457.9 997.0,454.9 1007.0,450.8 1022.0,450.6 1027.0,452.6 1032.4,458.0 1034.0,460.6 1034.5,464.0 1034.1,469.0 1028.5,475.0 1025.4,477.0 1020.0,478.4 1010.0,478.5 1003.0,479.8 985.0,488.1ZM474.1,1160.0 486.0,1151.9 509.0,1146.2 527.0,1140.2 538.0,1135.2 540.7,1132.0 542.4,1127.0 542.4,1122.0 541.2,1118.0 537.4,1111.0 529.2,1105.0 511.0,1099.2 503.0,1094.5 499.8,1091.0 497.8,1087.0 495.2,1076.0 493.2,1071.0 488.0,1066.8 481.0,1063.8 474.0,1061.8 459.0,1059.4 446.0,1056.4 434.0,1049.3 431.0,1049.0 429.6,1051.0 429.6,1056.0 433.8,1071.0 444.8,1104.0 448.2,1112.0 452.8,1128.0 459.8,1147.0 463.8,1155.0 466.8,1159.0 470.0,1160.4ZM570.2,1237.0 581.0,1232.8 585.6,1229.0 587.1,1226.0 588.0,1222.0 587.7,1220.0 585.7,1217.0 579.0,1212.7 573.0,1210.7 563.0,1210.6 558.0,1209.6 545.0,1209.6 537.0,1212.4 536.4,1210.0 536.6,1203.0 538.0,1200.0 541.0,1198.5 564.0,1195.3 575.0,1193.1 580.0,1191.2 584.0,1187.7 585.3,1185.0 585.0,1182.0 583.0,1179.4 578.0,1177.7 573.0,1177.7 545.0,1186.2 533.0,1188.6 526.0,1188.4 500.0,1184.6 487.0,1184.7 484.5,1186.0 484.0,1189.0 488.0,1194.5 505.0,1208.6 514.0,1214.2 529.0,1222.3 534.0,1223.3 545.5,1229.0 556.0,1235.7 561.0,1237.3ZM660.0,1333.2 653.0,1333.4 649.0,1332.1 646.0,1329.0 646.1,1326.0 649.9,1322.0 652.0,1320.8 660.0,1319.5 663.0,1319.9 667.0,1323.9 667.3,1327.0 666.4,1329.0 664.0,1331.4ZM708.0,1361.2 699.0,1361.2 691.0,1360.0 684.6,1358.0 682.0,1356.5 680.9,1355.0 680.0,1350.0 686.0,1343.3 689.0,1341.4 702.0,1338.6 711.0,1339.0 713.0,1341.0 714.2,1345.0 714.4,1354.0 712.2,1359.0ZM639.0,1395.2 633.0,1395.1 631.0,1393.0 631.0,1391.0 635.0,1387.3 641.5,1383.0 658.0,1375.3 670.0,1372.0 705.0,1365.9 711.0,1366.4 714.0,1370.0 714.0,1375.0 712.2,1379.0 710.9,1381.0 707.0,1383.2 697.0,1384.6 660.0,1392.4 647.0,1393.6Z" fill="#329900" fill-rule="evenodd"/>
<path d="M900.0,443.2 897.0,443.4 894.0,441.5 892.6,439.0 892.9,436.0 901.0,427.6 910.0,422.2 912.4,420.0 915.1,415.0 916.4,408.0 915.1,403.0 911.0,397.6 909.0,396.6 902.0,397.3 898.0,396.2 892.5,392.0 891.0,389.0 891.8,385.0 895.8,377.0 906.7,362.0 912.7,346.0 925.1,323.0 925.4,316.0 922.5,307.0 923.3,304.0 926.0,299.7 930.0,295.8 938.0,291.2 956.0,286.2 962.0,283.2 968.2,278.0 976.0,269.6 986.0,262.8 990.0,260.8 1002.0,256.8 1010.0,255.5 1020.0,256.8 1029.0,259.7 1037.3,265.0 1041.4,269.0 1043.0,271.7 1043.1,274.0 1042.2,277.0 1036.3,287.0 1033.3,294.0 1028.2,303.0 1023.3,310.0 1018.2,321.0 1014.2,326.0 1008.6,330.0 1007.3,332.0 1007.1,334.0 1009.0,335.7 1014.0,338.1 1019.0,339.4 1022.0,339.1 1033.0,333.2 1045.0,323.8 1051.0,321.5 1055.0,321.9 1056.9,324.0 1056.2,328.0 1053.4,333.0 1045.0,340.2 1024.0,351.8 998.0,371.2 976.0,381.7 966.8,387.0 960.6,393.0 954.8,401.0 950.1,409.0 942.0,417.7 934.0,422.3 928.7,424.0 917.0,429.8 907.0,439.4ZM726.0,1312.4 723.0,1312.6 718.0,1311.5 713.0,1312.5 702.0,1312.3 695.1,1311.0 665.0,1302.8 653.0,1300.6 630.0,1299.5 625.0,1298.5 619.0,1299.5 613.6,1299.0 607.5,1295.0 598.0,1285.6 589.0,1275.1 580.3,1267.0 569.0,1258.8 535.0,1237.2 512.9,1221.0 512.0,1219.8 515.0,1220.6 528.0,1227.2 532.0,1227.9 544.0,1233.8 552.0,1239.3 558.0,1241.4 572.0,1241.4 579.0,1239.2 586.0,1235.4 589.4,1232.0 591.1,1229.0 592.0,1218.0 589.5,1214.0 584.0,1209.7 576.0,1206.6 566.0,1206.5 561.0,1205.5 544.0,1205.4 542.4,1205.0 542.1,1204.0 543.0,1203.0 548.0,1201.6 555.0,1201.4 567.0,1199.4 578.0,1197.2 581.0,1195.9 587.0,1190.2 588.3,1188.0 587.8,1180.0 584.0,1176.2 580.0,1175.0 567.0,1174.7 542.0,1182.2 530.0,1184.5 503.0,1180.5 484.0,1180.6 482.0,1181.6 479.9,1184.0 479.3,1190.0 478.0,1191.0 472.8,1184.0 463.8,1167.0 464.0,1165.0 469.0,1165.5 477.0,1165.1 489.0,1156.9 512.0,1151.2 530.0,1145.2 535.0,1143.1 541.0,1139.1 545.0,1134.4 546.5,1129.0 546.4,1119.0 543.0,1108.8 540.0,1105.6 532.0,1099.9 514.0,1094.2 507.0,1090.4 504.8,1088.0 502.8,1084.0 500.2,1073.0 498.2,1068.0 495.0,1064.6 491.0,1061.8 484.0,1058.8 477.0,1056.8 462.0,1054.4 448.0,1051.1 436.0,1043.9 426.0,1043.9 423.0,1041.5 415.3,1033.0 401.1,1020.0 399.0,1018.8 393.0,1017.4 387.9,1015.0 386.0,1012.0 385.0,1008.0 384.0,1007.1 382.0,1007.3 378.9,1009.0 375.0,1014.4 375.0,983.7 388.4,925.0 393.4,900.0 396.4,881.0 399.4,844.0 402.3,821.0 409.1,788.0 413.4,773.0 423.5,747.0 434.4,728.0 469.0,677.7 566.5,521.0 575.1,510.0 586.2,493.0 591.8,483.0 610.0,456.7 615.7,451.0 621.0,448.6 624.0,448.8 626.0,449.8 632.8,456.0 636.0,457.4 639.0,457.2 648.0,453.6 653.0,453.6 673.0,460.2 684.0,462.8 698.0,468.3 717.0,477.8 729.5,487.0 738.0,497.7 743.2,507.0 746.9,520.0 750.7,523.0 761.0,525.4 767.0,525.6 770.0,526.4 803.0,527.6 810.0,528.8 815.0,530.5 822.0,534.8 826.4,539.0 829.7,544.0 833.2,558.0 837.0,562.6 842.7,578.0 846.8,586.0 852.2,594.0 857.2,604.0 860.2,613.0 861.4,620.0 861.5,626.0 860.4,635.0 852.6,666.0 849.6,687.0 849.4,694.0 847.2,707.0 844.2,715.0 835.3,728.0 832.6,738.0 832.5,748.0 833.6,755.0 839.8,782.0 842.5,789.0 842.4,795.0 836.8,806.0 831.9,819.0 828.2,834.0 826.2,840.0 820.8,851.0 816.1,868.0 808.8,879.0 803.9,889.0 803.8,896.0 809.8,913.0 812.7,920.0 815.7,925.0 816.5,928.0 815.0,931.4 807.0,936.1 805.8,938.0 804.5,943.0 806.6,949.0 810.5,952.0 817.2,959.0 823.7,970.0 828.2,982.0 830.4,992.0 830.5,996.0 825.6,1015.0 825.5,1025.0 826.8,1030.0 829.3,1035.0 835.0,1042.4 854.0,1056.5 857.0,1057.5 866.0,1057.6 869.3,1059.0 872.2,1063.0 872.4,1067.0 871.2,1072.0 865.7,1085.0 848.2,1118.0 799.8,1200.0 773.2,1247.0 744.0,1294.3 737.5,1303.0 733.6,1307.0 730.0,1310.5ZM954.0,488.2 949.0,488.4 946.0,486.5 944.6,484.0 944.8,478.0 948.8,470.0 953.4,465.0 960.0,459.7 965.0,457.7 970.0,456.5 979.0,456.8 983.4,460.0 987.0,465.8 989.0,466.4 992.0,465.7 1000.0,460.9 1010.0,456.8 1019.0,456.6 1024.0,458.6 1027.0,461.7 1028.1,464.0 1027.4,467.0 1025.0,469.4 1022.0,471.2 1017.0,472.4 1007.0,472.5 1000.0,473.8 982.0,482.1ZM709.0,1359.2 698.0,1359.7 688.0,1358.0 683.0,1354.9 681.8,1352.0 682.0,1350.0 687.0,1344.8 690.0,1342.8 702.0,1339.9 709.5,1340.0 711.8,1342.0 713.0,1345.6 713.2,1353.0 712.0,1357.2ZM638.0,1394.1 633.9,1394.0 632.0,1392.0 632.4,1391.0 641.9,1384.0 659.0,1376.2 670.8,1373.0 704.9,1367.0 710.0,1367.3 712.0,1368.7 713.0,1370.5 713.0,1374.4 712.0,1377.1 710.0,1380.1 706.4,1382.0 696.0,1383.4 660.0,1391.1 653.0,1392.2 647.0,1392.3Z" fill="#33ff00" fill-rule="evenodd"/>
<path d="M945.0,377.2 936.0,377.4 928.0,375.1 918.6,368.0 916.8,365.0 916.3,362.0 918.8,356.0 924.0,347.7 928.0,343.3 935.2,333.0 939.2,325.0 938.7,321.0 932.6,310.0 932.6,304.0 934.3,299.0 936.5,296.0 940.0,293.9 946.0,292.6 953.0,292.6 960.0,293.6 965.0,295.3 970.0,298.6 974.4,303.0 978.2,309.0 978.6,315.0 979.9,319.0 982.6,323.0 989.4,329.0 994.5,336.0 996.4,341.0 996.4,345.0 994.5,350.0 990.4,356.0 988.0,358.2 980.0,362.2 964.6,368.0ZM931.0,421.1 928.0,421.3 924.0,420.2 921.0,418.4 919.3,416.0 919.0,414.0 919.9,409.0 923.8,401.0 928.0,396.8 935.0,393.8 939.0,393.6 946.0,395.8 949.0,398.8 950.1,402.0 950.1,405.0 949.0,407.3 942.0,414.9 937.8,418.0ZM968.0,482.2 963.0,482.8 958.6,482.0 953.5,479.0 951.6,477.0 951.0,475.0 952.8,471.0 957.6,465.0 963.7,461.0 968.0,459.6 974.0,460.8 978.3,463.0 980.7,466.0 981.8,470.0 980.2,474.0 977.0,477.4 972.0,480.8ZM726.0,1310.1 722.8,1310.0 717.0,1305.6 711.0,1305.4 672.0,1295.6 659.0,1293.6 626.0,1292.4 611.0,1290.2 607.0,1289.1 604.0,1287.4 599.0,1282.4 591.0,1272.3 586.0,1263.0 586.6,1261.0 587.9,1260.0 592.0,1259.1 595.4,1257.0 599.7,1250.0 601.4,1244.0 599.0,1235.6 594.8,1230.0 593.6,1227.0 594.5,1218.0 593.2,1213.0 583.6,1198.0 583.8,1196.0 588.0,1191.7 589.5,1189.0 588.6,1179.0 585.8,1176.0 582.0,1174.3 565.0,1172.3 559.0,1171.2 554.0,1169.3 542.0,1162.4 538.8,1159.0 536.2,1154.0 536.6,1148.0 538.0,1144.1 545.6,1137.0 548.3,1130.0 548.3,1119.0 546.6,1113.0 546.5,1108.0 547.6,1099.0 549.5,1093.0 549.1,1090.0 548.0,1088.1 537.0,1082.3 523.0,1077.2 515.0,1073.2 507.0,1065.5 498.5,1055.0 495.0,1051.6 492.0,1049.8 478.0,1046.2 469.0,1041.3 460.0,1037.9 453.0,1036.6 446.0,1036.5 439.0,1037.6 434.0,1041.0 429.0,1041.1 425.0,1039.1 420.0,1035.0 402.0,1018.4 389.1,1014.0 387.8,1012.0 386.6,1007.0 385.0,1005.5 383.0,1005.1 379.0,1006.8 375.0,1011.2 375.0,992.3 390.3,925.0 396.3,894.0 403.1,822.0 410.2,788.0 414.2,774.0 424.2,748.0 435.7,728.0 470.0,678.0 567.8,521.0 579.0,507.1 592.8,493.0 604.0,483.8 612.0,479.6 624.0,483.5 632.0,482.5 648.0,482.6 654.0,483.8 666.0,487.8 677.0,492.4 682.0,493.0 693.0,491.5 701.0,493.8 716.0,502.8 723.4,509.0 729.2,516.0 737.0,532.7 739.0,534.7 743.0,536.2 783.0,536.5 801.0,534.5 807.0,535.8 814.0,538.8 819.2,544.0 823.2,552.0 826.0,560.3 828.0,560.9 829.7,563.0 832.8,575.0 835.8,581.0 849.4,600.0 857.4,624.0 857.4,630.0 853.8,641.0 849.6,662.0 849.4,667.0 847.4,672.0 844.0,675.1 839.0,676.4 831.0,677.3 827.0,676.5 819.0,676.9 812.0,680.6 810.3,683.0 808.8,687.0 808.5,696.0 809.9,702.0 815.8,714.0 824.2,725.0 827.2,731.0 828.4,738.0 828.5,750.0 829.6,760.0 833.4,773.0 833.4,778.0 832.2,784.0 829.1,792.0 816.3,817.0 813.8,825.0 813.6,834.0 816.5,844.0 816.4,853.0 815.1,857.0 812.2,861.0 809.0,862.7 791.0,867.9 786.0,870.6 782.8,874.0 780.8,878.0 778.8,884.0 778.5,888.0 778.6,894.0 779.8,898.0 791.2,923.0 791.5,930.0 790.5,936.0 790.9,941.0 803.2,959.0 803.4,963.0 801.6,972.0 801.8,974.0 806.9,987.0 812.7,995.0 818.2,1008.0 819.4,1014.0 820.6,1031.0 822.0,1036.4 825.0,1041.9 833.4,1050.0 839.8,1059.0 843.0,1060.4 850.0,1060.6 853.0,1061.8 856.1,1065.0 856.4,1070.0 851.2,1086.0 843.3,1103.0 792.0,1196.5 754.2,1269.0 745.2,1285.0 734.6,1302.0 729.0,1308.2ZM410.5,1003.0 418.0,1000.2 422.4,996.0 426.1,990.0 427.0,984.0 425.1,975.0 421.0,966.8 414.0,960.9 409.0,959.5 401.0,961.8 395.8,967.0 389.8,981.0 387.5,994.0 387.9,996.0 389.6,999.0 394.0,1002.1 402.0,1003.5Z" fill="#ffff00" fill-rule="evenodd"/>
<path d="M952.0,367.2 941.0,367.2 937.0,365.2 932.8,362.0 929.9,358.0 929.6,355.0 931.0,350.6 937.6,341.0 945.0,333.8 951.0,329.9 959.0,326.6 965.0,325.5 972.0,326.6 979.0,328.9 983.0,331.6 987.2,336.0 988.5,340.0 987.5,346.0 983.4,353.0 981.0,355.2 976.0,357.7 959.0,365.2ZM934.0,417.3 931.0,417.0 929.0,415.7 925.8,412.0 925.3,409.0 927.4,404.0 931.0,400.3 934.0,398.3 938.0,397.7 942.0,399.3 944.0,400.9 945.0,403.0 944.8,405.0 942.0,410.7 936.6,416.0ZM967.0,480.2 964.0,480.0 960.0,477.6 957.8,475.0 957.1,472.0 959.5,468.0 963.0,465.4 965.0,464.7 970.0,464.7 974.7,467.0 976.0,469.0 976.3,471.0 974.7,475.0 973.1,477.0ZM726.0,1308.0 723.0,1307.2 718.4,1301.0 716.0,1299.6 701.0,1298.4 673.0,1292.6 660.0,1290.6 630.0,1289.5 621.0,1288.1 610.0,1283.2 599.0,1275.5 594.0,1270.4 592.8,1268.0 593.6,1266.0 603.0,1260.4 607.5,1255.0 611.1,1247.0 611.5,1243.0 610.0,1239.1 604.0,1235.4 599.9,1230.0 599.6,1225.0 601.4,1219.0 601.4,1214.0 598.2,1207.0 590.8,1196.0 591.1,1188.0 589.5,1179.0 585.0,1174.4 581.0,1173.2 571.8,1172.0 554.0,1163.2 549.6,1160.0 546.6,1155.0 546.0,1150.0 552.2,1133.0 553.4,1127.0 553.5,1100.0 556.4,1090.0 556.0,1085.4 550.3,1082.0 527.0,1074.2 522.0,1071.2 513.8,1063.0 508.8,1054.0 507.4,1047.0 506.1,1045.0 493.0,1040.2 487.0,1037.2 482.0,1033.8 471.0,1028.2 457.0,1017.4 449.8,1009.0 438.3,991.0 436.6,987.0 435.0,976.0 431.0,967.1 427.0,961.4 423.0,957.0 415.0,952.0 403.0,953.3 400.0,952.0 398.7,948.0 397.6,938.0 397.6,908.0 398.5,903.0 400.0,863.0 403.7,823.0 408.8,798.0 413.0,781.0 417.0,768.0 425.0,748.1 435.9,729.0 470.2,679.0 568.0,522.0 575.0,513.2 585.0,503.7 604.0,494.3 609.0,492.6 618.0,494.4 633.0,494.5 645.0,496.6 659.0,499.8 676.0,506.4 680.0,506.4 687.0,504.0 691.0,504.8 697.3,508.0 712.5,520.0 724.0,531.7 729.6,543.0 732.0,545.2 736.0,547.1 741.0,548.0 751.0,547.5 757.0,548.5 773.0,548.5 784.0,546.2 795.0,542.6 802.0,542.6 806.0,543.9 813.0,549.8 816.3,555.0 820.5,572.0 817.7,581.0 807.8,600.0 806.6,604.0 806.9,608.0 809.0,611.9 811.0,613.1 826.0,615.7 831.4,620.0 833.4,624.0 833.0,627.1 828.3,632.0 818.0,637.7 804.0,642.9 796.0,648.6 793.9,652.0 793.9,656.0 797.0,659.9 801.0,663.7 808.2,668.0 809.5,670.0 804.8,677.0 797.9,699.0 796.6,705.0 798.6,709.0 807.0,716.7 811.4,726.0 811.2,733.0 801.3,747.0 799.6,755.0 801.8,766.0 804.8,772.0 816.1,789.0 816.4,794.0 814.0,798.3 807.6,805.0 798.4,818.0 786.6,830.0 775.8,844.0 769.8,854.0 767.8,860.0 766.6,868.0 768.4,877.0 769.6,891.0 777.8,932.0 779.8,939.0 785.1,949.0 787.4,956.0 786.5,965.0 787.8,973.0 790.8,981.0 798.7,990.0 801.2,995.0 803.4,1002.0 803.4,1008.0 801.7,1019.0 805.5,1038.0 803.6,1047.0 803.9,1055.0 806.5,1059.0 811.0,1062.2 833.0,1067.8 843.0,1071.8 846.4,1075.0 849.2,1079.0 850.1,1083.0 847.0,1091.5 841.0,1103.5 790.8,1195.0 753.0,1267.5 735.1,1298.0 731.0,1303.6ZM839.0,615.2 830.0,615.2 823.0,611.2 819.9,608.0 819.6,604.0 820.8,601.0 824.0,596.5 828.0,593.3 831.0,592.5 840.0,592.9 843.0,594.9 847.7,601.0 848.1,606.0 846.2,610.0 843.0,613.4ZM692.3,1226.0 713.0,1220.2 716.3,1218.0 716.9,1216.0 715.0,1212.8 713.0,1211.6 706.0,1211.6 698.0,1213.8 688.0,1218.8 686.0,1221.0 686.0,1223.0 687.8,1225.0 690.0,1226.1Z" fill="#ffcc00" fill-rule="evenodd"/>
<path d="M955.0,362.2 946.0,362.2 943.0,360.4 940.8,358.0 939.6,355.0 939.8,352.0 941.8,348.0 945.0,343.8 953.0,337.8 961.0,334.6 969.0,334.6 976.0,337.6 979.0,340.8 980.2,344.0 980.4,347.0 979.4,349.0 975.0,353.4 970.0,356.7 965.0,359.1ZM935.0,415.0 933.0,415.5 930.9,415.0 927.9,412.0 927.3,409.0 928.9,405.0 932.9,401.0 935.0,399.8 938.0,399.6 942.0,401.5 943.1,404.0 941.1,409.0ZM968.0,478.2 964.0,478.1 960.0,475.1 959.0,473.0 961.0,469.0 965.0,466.6 971.0,466.8 973.1,468.0 974.4,470.0 974.2,472.0 972.5,475.0ZM713.0,1295.1 711.0,1295.1 707.0,1293.6 696.0,1293.4 678.0,1289.6 663.0,1288.5 658.0,1287.5 643.0,1287.4 627.0,1285.4 617.0,1282.2 610.0,1275.3 601.0,1272.9 600.3,1272.0 601.0,1270.4 611.0,1263.8 615.4,1259.0 621.9,1248.0 622.3,1243.0 621.0,1241.3 613.0,1236.5 609.0,1232.3 606.7,1228.0 606.0,1225.0 609.4,1217.0 608.2,1212.0 605.2,1205.0 599.3,1196.0 596.7,1188.0 592.0,1183.0 590.3,1178.0 587.0,1174.4 585.0,1173.2 582.0,1172.2 576.0,1171.8 572.6,1170.0 562.6,1159.0 559.8,1154.0 559.6,1146.0 564.5,1126.0 559.6,1107.0 559.6,1099.0 562.8,1092.0 568.3,1085.0 568.6,1083.0 567.0,1081.9 543.0,1076.1 534.0,1072.3 528.0,1068.4 522.8,1063.0 520.9,1060.0 519.6,1056.0 519.9,1052.0 525.4,1044.0 525.1,1041.0 524.0,1039.6 520.0,1036.9 508.0,1034.2 502.0,1031.7 490.0,1025.2 479.0,1018.2 471.0,1011.4 468.0,1008.3 463.2,1000.0 460.0,996.5 454.0,990.6 441.6,982.0 430.6,963.0 421.4,951.0 418.0,947.6 415.0,947.0 411.0,950.0 405.0,951.5 402.0,950.8 400.6,948.0 399.4,938.0 399.4,908.0 400.2,903.0 401.2,862.0 404.6,823.0 411.6,789.0 415.8,774.0 425.9,748.0 436.8,729.0 471.0,679.0 569.0,522.0 575.4,514.0 583.2,507.0 590.0,503.0 598.0,500.6 601.0,500.8 612.0,505.4 619.0,506.5 628.0,506.5 632.0,507.4 639.0,507.6 646.0,508.8 665.0,513.8 680.0,519.8 686.2,525.0 690.2,530.0 695.2,541.0 697.0,554.3 699.1,558.0 703.0,560.1 710.0,561.4 727.0,562.6 739.0,565.4 753.0,566.6 758.0,567.8 762.0,569.9 763.6,572.0 762.6,578.0 763.0,581.1 765.0,583.1 769.0,584.4 772.0,584.4 777.0,583.2 792.0,577.5 795.0,577.6 798.0,578.8 800.3,582.0 798.2,588.0 787.0,599.7 780.8,611.0 777.8,620.0 777.0,626.0 780.4,637.0 779.2,641.0 777.0,643.4 770.0,648.2 761.0,653.3 750.5,658.0 748.8,659.0 748.7,660.0 751.0,661.4 760.0,662.5 773.0,659.6 782.0,659.6 789.0,662.6 792.2,666.0 793.4,669.0 793.2,674.0 786.8,686.0 783.8,695.0 783.5,699.0 784.8,703.0 795.2,718.0 796.7,724.0 796.4,728.0 793.7,736.0 789.0,744.3 784.0,748.2 778.0,750.4 777.2,752.0 778.8,754.0 785.2,758.0 789.2,763.0 793.2,771.0 793.4,778.0 790.2,790.0 784.3,802.0 771.8,820.0 769.8,824.0 765.2,844.0 760.8,858.0 760.5,871.0 762.6,888.0 765.6,905.0 770.2,922.0 770.4,925.0 768.7,931.0 765.0,937.3 762.0,940.8 754.8,945.0 753.6,947.0 753.5,949.0 753.8,953.0 756.8,960.0 764.4,967.0 768.2,972.0 779.3,995.0 787.3,1007.0 789.4,1013.0 790.4,1021.0 786.6,1037.0 783.5,1057.0 783.5,1065.0 785.4,1076.0 785.4,1080.0 784.4,1087.0 782.6,1092.0 778.4,1114.0 776.6,1120.0 776.5,1123.0 777.0,1126.0 778.0,1127.0 786.0,1127.6 789.2,1129.0 791.2,1132.0 791.4,1135.0 786.2,1152.0 780.2,1167.0 756.7,1219.0 738.3,1258.0 730.1,1274.0 722.2,1287.0 716.0,1293.4ZM835.0,612.0 832.0,611.5 829.6,610.0 827.9,607.0 827.9,605.0 830.0,601.8 833.0,599.8 835.0,599.2 839.0,599.9 841.0,601.1 842.1,603.0 841.5,607.0 839.0,610.4ZM704.5,1196.0 709.2,1194.0 713.5,1188.0 715.4,1181.0 714.1,1177.0 712.2,1174.0 709.0,1170.8 704.0,1168.6 692.0,1168.6 687.0,1170.8 683.8,1174.0 680.7,1181.0 681.9,1188.0 683.6,1192.0 686.0,1194.2 691.0,1196.4ZM689.5,1230.0 699.0,1226.9 710.0,1225.4 716.0,1223.7 721.0,1220.4 724.4,1217.0 726.1,1214.0 726.1,1211.0 721.0,1206.3 715.0,1205.5 697.0,1208.8 688.3,1213.0 680.7,1218.0 676.4,1222.0 675.6,1224.0 676.8,1226.0 680.0,1228.1 687.0,1230.4Z" fill="#ff9900" fill-rule="evenodd"/>
<path d="M669.0,1285.1 663.0,1285.5 632.0,1277.6 625.0,1275.2 621.0,1273.0 618.9,1271.0 615.0,1265.1 615.2,1263.0 620.0,1254.9 625.0,1248.3 634.0,1238.7 643.0,1233.0 645.8,1229.0 646.1,1227.0 645.0,1225.7 642.0,1224.4 630.0,1221.3 626.9,1219.0 625.5,1216.0 625.3,1209.0 627.7,1201.0 627.7,1196.0 625.4,1192.0 618.0,1184.0 611.0,1177.1 607.0,1174.3 593.4,1168.0 583.1,1162.0 580.1,1159.0 577.7,1155.0 577.2,1152.0 577.7,1148.0 583.1,1131.0 583.4,1125.0 581.3,1120.0 576.9,1113.0 573.6,1103.0 573.6,1099.0 575.3,1094.0 580.0,1086.7 591.0,1078.6 592.2,1077.0 592.0,1076.0 589.0,1074.4 569.0,1071.9 548.0,1066.6 542.0,1063.2 538.9,1060.0 536.8,1056.0 536.8,1054.0 539.8,1044.0 545.7,1036.0 545.9,1033.0 542.0,1031.0 537.0,1030.4 530.1,1028.0 524.4,1025.0 516.4,1018.0 514.4,1014.0 515.0,1010.0 526.6,990.0 527.2,987.0 526.0,985.2 523.0,983.6 515.5,983.0 499.5,977.0 496.0,974.7 489.0,967.1 481.0,963.6 477.0,962.4 473.0,962.3 465.0,965.1 462.0,964.5 457.0,958.8 437.6,946.0 431.4,940.0 424.0,929.2 421.3,922.0 419.9,920.0 416.0,919.1 409.0,922.7 406.8,922.0 405.2,920.0 404.2,917.0 403.1,909.0 403.3,861.0 406.0,823.1 413.0,789.0 414.6,785.0 417.0,774.5 426.9,749.0 438.0,729.0 449.0,711.9 471.3,680.0 519.0,603.0 540.5,571.0 570.0,523.8 576.0,516.3 579.0,514.4 582.0,515.9 625.4,527.0 645.0,536.0 652.9,541.0 663.0,550.7 669.0,559.0 671.9,566.0 673.7,574.0 675.8,578.0 680.0,582.3 686.0,586.2 695.0,586.8 702.0,585.7 719.0,579.1 723.0,579.1 726.3,580.0 731.2,583.0 733.0,586.0 732.1,589.0 728.0,594.1 722.0,598.4 717.7,603.0 713.2,610.0 706.9,623.0 695.8,653.0 694.6,660.0 694.7,671.0 696.9,676.0 701.0,680.0 704.0,681.6 708.0,681.6 714.0,680.1 718.0,681.9 723.0,685.5 729.0,687.8 739.0,688.1 748.0,687.2 752.0,689.0 753.3,691.0 752.7,693.0 745.5,703.0 744.1,706.0 744.0,719.0 745.6,726.0 745.3,728.0 742.1,733.0 739.0,735.4 731.7,743.0 729.3,748.0 729.1,752.0 733.9,767.0 737.0,784.6 738.1,793.0 738.2,801.0 739.1,805.0 739.2,817.0 740.5,827.0 744.7,841.0 751.2,853.0 754.7,863.0 758.3,886.0 758.5,896.0 760.0,904.0 760.0,908.0 757.4,916.0 753.6,922.0 743.0,933.6 735.0,945.9 733.5,952.0 733.5,960.0 734.2,963.0 740.0,973.7 757.1,991.0 761.0,996.3 764.0,1002.4 767.1,1013.0 767.1,1025.0 763.4,1041.0 760.9,1059.0 771.0,1071.8 774.9,1080.0 775.7,1084.0 774.9,1088.0 772.1,1094.0 762.5,1108.0 758.0,1113.7 748.9,1123.0 740.0,1130.9 735.0,1134.6 726.0,1139.3 712.0,1144.6 690.5,1151.0 685.7,1154.0 684.0,1156.3 679.6,1168.0 678.5,1175.0 678.5,1186.0 682.2,1197.0 684.5,1200.0 690.3,1205.0 691.9,1209.0 684.0,1214.0 675.5,1221.0 673.0,1224.9 669.9,1227.0 669.7,1230.0 672.0,1235.0 675.0,1237.1 687.0,1240.0 699.0,1241.6 704.1,1244.0 707.0,1246.6 707.2,1251.0 705.9,1255.0 702.0,1262.8 695.0,1270.1 682.6,1278.0ZM760.0,616.2 756.0,615.7 753.3,613.0 753.1,611.0 755.6,607.0 760.0,602.8 767.0,598.8 772.0,597.6 775.2,599.0 776.5,602.0 775.4,605.0 767.3,612.0Z" fill="#ff0000" fill-rule="evenodd"/>
<path d="M667.0,1276.1 661.0,1276.7 646.0,1274.0 635.0,1269.0 629.8,1265.0 628.5,1263.0 628.4,1259.0 629.3,1254.0 632.7,1246.0 637.0,1240.3 645.3,1235.0 650.3,1228.0 650.5,1226.0 647.0,1222.2 635.0,1212.9 632.0,1196.0 628.7,1189.0 613.0,1172.6 596.3,1157.0 591.7,1151.0 591.5,1148.0 595.7,1122.0 587.6,1108.0 585.6,1102.0 585.4,1099.0 586.6,1094.0 588.4,1090.0 596.2,1079.0 597.2,1076.0 596.7,1074.0 594.0,1072.0 590.0,1070.5 571.0,1066.7 561.0,1063.7 551.2,1059.0 547.3,1055.0 546.6,1052.0 547.0,1048.0 552.3,1035.0 553.4,1028.0 553.3,1021.0 551.0,1007.0 551.0,1001.0 547.4,992.0 542.7,983.0 539.2,978.0 534.0,972.2 518.0,958.7 509.0,957.0 491.0,950.1 468.0,943.6 456.0,934.3 449.5,927.0 445.5,918.0 439.1,889.0 431.0,870.5 427.0,859.0 423.0,839.0 422.5,828.0 423.7,818.0 425.0,817.7 431.0,820.3 433.0,820.0 437.0,815.9 441.0,809.4 445.2,801.0 448.2,791.0 449.4,782.0 452.4,769.0 460.1,745.0 460.8,740.0 460.0,734.7 458.0,730.2 455.0,725.9 448.4,720.0 447.5,718.0 448.3,716.0 473.2,680.0 521.0,603.4 524.0,601.3 531.2,599.0 544.0,590.0 554.0,584.5 563.0,579.8 574.0,575.3 590.0,561.5 594.0,559.4 602.0,559.4 614.0,560.7 622.0,562.9 632.0,567.2 641.9,575.0 653.0,591.6 684.4,610.0 686.0,611.8 687.7,622.0 687.6,636.0 684.7,652.0 677.4,676.0 676.9,680.0 680.0,686.1 687.5,697.0 695.0,706.2 706.3,717.0 706.3,720.0 703.2,732.0 702.8,739.0 706.5,771.0 706.2,781.0 711.9,798.0 713.8,809.0 714.9,833.0 716.2,835.0 720.5,839.0 741.0,856.5 747.0,863.4 751.5,872.0 753.7,879.0 755.5,888.0 755.6,900.0 754.6,907.0 753.0,911.5 748.4,921.0 731.2,944.0 730.4,946.0 730.9,963.0 735.7,973.0 740.7,986.0 744.8,1003.0 745.1,1019.0 739.3,1043.0 739.0,1057.0 741.0,1068.3 746.9,1082.0 747.2,1085.0 738.2,1110.0 732.2,1120.0 728.3,1125.0 721.9,1131.0 711.3,1138.0 695.5,1146.0 688.1,1149.0 684.0,1151.7 681.9,1154.0 679.0,1159.7 676.9,1166.0 675.6,1173.0 675.6,1187.0 679.3,1198.0 681.5,1201.0 687.0,1205.9 688.0,1209.0 686.4,1211.0 673.0,1221.7 668.0,1224.6 666.3,1227.0 666.0,1229.0 669.7,1237.0 680.8,1244.0 688.9,1253.0 689.8,1255.0 687.0,1260.5 678.8,1269.0 674.0,1272.6Z" fill="#cc0000" fill-rule="evenodd"/>
<path d="M504.0,868.0 484.0,867.9 471.0,864.6 463.0,860.5 456.0,855.5 451.5,851.0 447.2,845.0 441.5,833.0 440.4,827.0 440.4,818.0 447.8,801.0 452.8,773.0 455.8,762.0 461.1,747.0 462.2,740.0 461.1,734.0 458.4,728.0 455.7,724.0 450.4,720.0 450.3,717.0 475.2,681.0 515.5,616.0 523.0,606.4 525.0,606.4 530.0,609.2 546.0,604.6 557.0,604.4 562.0,605.5 577.2,611.0 582.0,612.0 585.6,610.0 594.0,601.6 600.0,598.5 609.0,596.0 613.0,596.2 618.0,597.5 627.5,603.0 631.5,609.0 635.0,617.0 637.0,619.2 639.0,619.8 645.0,618.3 650.0,618.1 658.0,620.2 664.0,623.3 668.0,626.8 671.5,631.0 674.3,637.0 674.4,647.0 670.7,656.0 664.0,663.9 660.0,666.6 651.7,670.0 650.0,671.6 649.6,673.0 653.5,682.0 662.7,695.0 668.6,708.0 672.7,727.0 673.2,738.0 675.1,746.0 679.7,757.0 679.8,765.0 678.4,770.0 673.4,779.0 668.0,785.8 664.0,789.6 653.0,796.7 637.0,803.8 627.2,807.0 620.0,813.8 612.0,818.5 599.0,823.3 580.6,828.0 574.0,833.4 566.0,843.2 559.0,848.9 551.0,853.5 519.0,864.5ZM662.0,1225.1 658.0,1224.4 653.0,1222.1 650.3,1220.0 647.0,1216.0 643.1,1209.0 642.1,1203.0 638.3,1199.0 632.7,1187.0 621.0,1175.0 617.0,1169.9 611.5,1162.0 605.8,1151.0 604.5,1146.0 604.8,1135.0 612.4,1118.0 606.0,1113.7 601.3,1109.0 597.8,1102.0 595.8,1093.0 596.3,1088.0 600.4,1080.0 604.5,1074.0 604.5,1072.0 589.0,1065.9 566.0,1059.3 559.0,1055.4 555.4,1050.0 554.9,1046.0 555.7,1041.0 558.8,1035.0 564.0,1029.4 569.0,1025.6 595.1,1011.0 595.0,1010.0 587.0,1005.5 581.5,1000.0 579.8,998.0 576.7,992.0 575.3,988.0 575.2,985.0 579.0,975.6 578.0,975.3 568.0,977.3 558.0,974.6 553.0,971.0 548.1,966.0 542.6,956.0 542.3,947.0 544.7,941.0 547.5,937.0 553.0,931.4 556.0,929.5 560.4,928.0 561.0,925.0 559.0,922.8 558.0,922.7 539.0,928.8 519.0,933.6 506.0,935.7 499.0,935.6 487.0,932.4 477.0,927.2 472.7,923.0 470.8,920.0 469.4,917.0 469.2,912.0 469.7,909.0 472.5,904.0 477.0,899.6 486.0,893.5 500.0,886.3 519.0,878.3 543.0,870.9 551.0,869.7 564.0,873.1 570.0,876.2 580.0,885.8 582.0,886.8 595.0,870.6 600.8,862.0 611.7,849.0 618.0,842.9 639.0,825.9 645.0,819.9 649.0,814.0 652.3,806.0 657.1,797.0 661.0,794.3 668.0,793.0 677.0,795.5 680.0,797.4 684.3,802.0 687.4,808.0 688.7,813.0 688.7,829.0 686.4,836.0 683.5,842.0 677.7,851.0 672.0,856.8 667.0,860.6 651.1,871.0 647.2,875.0 647.2,877.0 650.0,878.6 657.0,878.2 682.0,866.4 690.0,863.5 699.0,861.3 707.0,861.1 711.0,860.3 721.0,861.4 735.0,865.3 742.0,869.1 746.0,872.9 751.3,883.0 752.5,888.0 752.5,896.0 752.0,898.9 746.4,912.0 744.6,918.0 739.0,928.8 735.0,934.5 725.6,943.0 727.5,952.0 727.7,963.0 732.3,973.0 733.0,983.0 718.0,1030.0 715.9,1039.0 716.0,1050.0 721.8,1085.0 721.3,1110.0 718.3,1119.0 712.5,1128.0 704.0,1136.0 692.4,1144.0 687.0,1146.3 682.0,1149.6 678.4,1154.0 674.0,1165.0 672.7,1172.0 672.7,1188.0 676.4,1199.0 678.6,1202.0 683.9,1207.0 684.3,1209.0 681.7,1213.0 677.0,1217.1 668.0,1221.0 664.0,1224.5ZM659.0,1269.1 653.0,1268.8 648.0,1267.5 644.0,1265.3 639.8,1260.0 636.2,1251.0 636.5,1248.0 639.0,1242.7 647.0,1237.4 651.6,1232.0 656.0,1230.5 661.0,1231.4 663.9,1233.0 667.6,1239.0 674.9,1244.0 675.9,1248.0 675.6,1255.0 670.5,1264.0 665.0,1267.6Z" fill="#990000" fill-rule="evenodd"/>
<path d="M504.0,857.2 485.0,857.4 476.0,855.2 470.0,852.3 463.0,847.4 459.6,844.0 455.8,839.0 451.8,831.0 450.5,824.0 450.8,819.0 453.3,812.0 458.2,804.0 459.3,801.0 457.2,796.0 453.6,792.0 452.0,789.1 451.9,783.0 455.0,769.0 459.0,756.5 462.5,748.0 463.5,740.0 462.5,734.0 460.6,729.0 461.0,721.0 459.0,719.7 453.0,720.1 451.8,719.0 452.0,717.5 476.4,682.0 509.6,628.0 518.6,615.0 520.3,615.0 525.0,619.1 528.0,619.5 531.0,619.2 540.0,615.8 546.0,614.6 557.0,614.6 578.0,622.2 583.0,622.5 588.0,621.2 593.0,618.2 599.5,611.0 603.0,608.7 609.0,606.6 614.0,607.3 620.2,611.0 622.7,615.0 625.8,623.0 630.0,627.7 638.0,630.5 646.0,628.6 652.0,628.8 659.0,632.6 662.4,636.0 664.2,639.0 664.2,646.0 663.1,649.0 660.0,653.3 654.2,658.0 648.0,659.9 643.5,663.0 639.3,668.0 638.5,673.0 638.9,675.0 644.3,687.0 654.2,701.0 658.2,710.0 662.4,730.0 662.6,740.0 664.9,749.0 669.4,760.0 669.4,763.0 668.2,767.0 665.0,772.3 658.5,780.0 646.0,788.2 632.0,794.1 622.0,797.3 617.8,800.0 613.3,805.0 606.0,809.2 595.0,813.2 583.0,815.8 574.0,818.8 570.0,821.6 565.5,826.0 559.0,834.4 552.3,840.0 547.0,843.2 513.0,855.2ZM667.0,1215.2 662.0,1215.7 659.0,1214.7 656.8,1213.0 653.8,1209.0 652.7,1206.0 656.2,1201.0 656.1,1200.0 651.0,1197.2 646.0,1193.2 640.2,1181.0 637.0,1176.8 627.0,1167.3 619.8,1157.0 615.8,1149.0 614.5,1144.0 614.8,1137.0 618.3,1129.0 625.1,1122.0 625.4,1118.0 624.0,1114.8 620.0,1110.5 612.7,1106.0 609.0,1102.3 606.8,1097.0 605.6,1091.0 609.8,1083.0 618.2,1074.0 619.0,1071.0 618.2,1069.0 616.0,1066.8 608.0,1062.8 585.0,1054.8 571.0,1051.2 567.0,1049.2 564.9,1047.0 564.6,1045.0 565.8,1042.0 571.0,1036.6 584.0,1028.8 606.0,1017.2 610.2,1014.0 612.1,1011.0 612.5,1009.0 612.3,1007.0 611.0,1005.3 594.0,997.4 588.6,992.0 586.5,988.0 586.4,985.0 588.8,981.0 598.0,971.2 600.1,968.0 600.1,965.0 598.9,963.0 594.0,960.6 589.0,960.6 571.0,966.4 565.0,966.4 559.0,962.5 553.3,955.0 552.6,953.0 552.6,949.0 556.5,943.0 561.0,939.3 567.0,940.3 569.7,938.0 573.2,923.0 573.0,920.6 569.0,917.5 564.0,911.6 562.0,910.6 559.0,910.5 556.0,911.3 550.0,914.5 535.0,919.2 513.0,924.4 500.0,925.5 491.0,923.2 485.0,920.2 480.6,916.0 479.6,913.0 480.6,911.0 484.0,907.8 493.0,901.8 504.0,896.3 524.0,887.8 539.0,882.8 550.0,880.6 559.0,882.8 564.0,885.6 572.4,894.0 579.8,905.0 581.0,905.4 593.4,891.0 609.0,869.7 620.0,856.5 625.0,851.6 646.0,834.4 653.4,827.0 659.3,818.0 664.9,805.0 666.0,804.0 668.0,803.5 670.0,803.8 673.0,805.6 676.0,808.7 677.2,811.0 678.4,816.0 678.5,825.0 676.2,833.0 670.2,843.0 665.5,848.0 644.0,862.6 634.6,872.0 633.6,874.0 633.6,877.0 636.6,882.0 641.0,886.4 644.0,888.2 648.0,889.4 656.0,889.4 666.0,886.2 692.0,873.8 700.0,871.6 712.0,870.6 727.0,872.8 736.3,877.0 739.4,880.0 741.7,884.0 743.4,889.0 743.5,893.0 743.2,896.0 736.9,910.0 735.2,916.0 731.2,924.0 725.5,931.0 717.0,936.6 714.1,940.0 722.2,967.0 723.4,973.0 723.5,980.0 723.2,983.0 713.8,1008.0 705.6,1036.0 705.6,1052.0 711.5,1088.0 711.2,1108.0 709.0,1115.4 705.4,1121.0 698.0,1128.4 689.7,1134.0 682.0,1140.5 677.0,1145.8 673.8,1152.0 669.8,1164.0 664.4,1191.0 660.0,1198.0 661.0,1199.3 667.0,1199.6 670.0,1200.8 673.4,1204.0 674.6,1206.0 674.6,1208.0 672.4,1212.0ZM660.0,1259.2 655.0,1259.5 652.0,1258.7 649.8,1257.0 646.8,1252.0 646.2,1250.0 646.9,1247.0 649.6,1243.0 652.0,1240.9 656.0,1240.0 661.0,1240.9 663.4,1243.0 666.1,1247.0 666.5,1250.0 665.7,1253.0 663.0,1257.2Z" fill="#990099" fill-rule="evenodd"/>
<path d="M504.0,851.2 486.0,851.5 477.0,849.2 471.0,846.2 466.7,843.0 461.8,837.0 457.8,829.0 456.6,822.0 459.7,813.0 465.1,804.0 465.4,799.0 463.2,794.0 458.3,788.0 454.9,780.0 456.0,779.1 460.0,780.4 463.0,779.7 470.0,776.2 491.0,762.7 495.0,760.8 510.0,756.1 513.0,753.2 515.1,749.0 515.0,747.0 514.0,745.6 510.0,744.5 505.0,744.8 491.0,748.8 477.0,754.8 468.8,760.0 462.0,765.7 459.0,767.0 461.3,761.0 467.7,751.0 468.5,748.0 468.4,740.0 465.6,733.0 467.4,724.0 467.4,720.0 465.0,716.5 461.0,713.9 460.4,713.0 460.8,711.0 486.2,671.0 494.0,657.0 515.0,623.1 517.0,621.2 518.0,621.1 522.0,624.1 526.0,625.4 529.0,625.5 540.0,621.8 546.0,620.6 555.0,620.5 578.0,628.2 584.0,628.4 593.0,625.2 597.5,622.0 604.0,614.8 608.0,612.8 611.0,612.6 614.0,613.8 616.0,615.7 619.8,625.0 624.0,630.5 627.0,632.7 637.0,636.4 649.0,634.5 655.0,636.8 657.2,639.0 658.4,642.0 657.1,647.0 653.0,651.8 651.0,653.1 645.0,654.9 642.0,656.8 634.6,664.0 632.6,668.0 632.5,675.0 632.9,677.0 638.3,689.0 648.2,703.0 652.2,712.0 656.4,732.0 656.6,742.0 658.9,751.0 663.0,761.0 662.2,765.0 659.2,770.0 654.2,776.0 648.0,780.2 641.0,784.2 618.0,792.8 614.0,795.6 609.0,800.8 605.0,803.3 595.0,807.2 583.0,809.8 571.0,813.8 566.0,817.5 550.0,834.4 543.0,838.7 513.0,849.2ZM482.1,717.0 485.1,716.0 495.7,707.0 509.0,698.8 513.0,696.8 523.0,694.2 527.0,692.4 529.2,690.0 531.1,686.0 531.4,684.0 530.4,682.0 529.0,680.9 526.0,680.6 511.0,683.8 501.0,686.8 489.7,693.0 479.6,703.0 475.9,708.0 474.8,711.0 474.7,713.0 475.8,715.0 479.0,716.5ZM656.0,1192.0 654.0,1192.0 651.6,1190.0 646.2,1179.0 643.0,1174.7 634.5,1167.0 630.0,1161.3 625.3,1154.0 620.8,1144.0 620.6,1140.0 622.7,1134.0 624.6,1131.0 631.1,1124.0 631.4,1116.0 629.4,1112.0 623.0,1105.5 615.0,1100.2 612.8,1095.0 612.5,1092.0 614.0,1087.7 623.9,1076.0 624.5,1071.0 623.7,1068.0 619.0,1062.9 611.5,1059.0 585.2,1049.0 575.0,1046.2 572.6,1045.0 572.3,1044.0 574.0,1041.6 579.2,1038.0 603.0,1025.7 612.0,1020.2 616.2,1016.0 618.1,1013.0 618.5,1011.0 618.4,1005.0 616.5,1002.0 613.0,999.7 598.0,993.2 594.6,990.0 593.0,987.0 595.0,982.7 603.4,974.0 606.1,970.0 606.4,964.0 605.2,961.0 603.5,959.0 598.0,955.8 594.0,954.6 590.0,954.5 572.0,960.2 568.0,960.8 563.0,958.4 559.0,952.3 558.9,950.0 561.9,946.0 564.0,945.6 567.0,946.3 570.0,945.5 572.0,944.4 575.2,941.0 580.4,921.0 580.0,917.9 578.0,915.6 574.0,913.4 567.0,906.6 561.0,904.5 558.0,904.6 554.0,905.8 547.0,909.5 535.0,913.2 518.0,917.4 506.0,919.4 499.0,919.4 494.0,918.2 489.0,915.7 487.3,914.0 488.4,912.0 496.0,906.8 508.0,900.8 530.0,891.8 539.0,888.8 550.0,886.6 556.0,887.8 561.5,891.0 570.0,900.7 574.0,908.2 576.0,910.4 580.0,912.0 584.0,911.1 586.4,909.0 599.4,893.0 615.0,871.7 626.0,858.5 649.0,839.4 659.4,829.0 664.2,822.0 668.8,812.0 670.0,811.7 671.1,813.0 672.4,818.0 672.5,823.0 668.7,834.0 662.0,843.4 641.0,857.6 628.6,870.0 627.6,872.0 627.6,879.0 630.6,884.0 638.0,891.4 640.6,893.0 648.0,895.4 656.0,895.4 669.0,891.2 695.0,878.8 700.0,877.6 712.0,876.6 727.0,878.8 733.0,881.9 736.2,887.0 737.5,892.0 737.2,894.0 730.9,908.0 729.2,914.0 725.2,922.0 722.0,926.4 714.0,931.6 708.6,937.0 707.6,939.0 707.9,943.0 715.2,965.0 717.5,978.0 717.2,981.0 707.8,1006.0 699.6,1034.0 699.5,1053.0 705.4,1089.0 705.2,1106.0 702.8,1114.0 698.9,1120.0 694.0,1124.7 678.6,1136.0 670.8,1144.0 667.8,1150.0 663.8,1162.0 658.4,1189.0ZM666.0,1209.1 664.0,1209.7 662.0,1209.3 660.3,1207.0 660.7,1206.0 664.0,1205.5 666.8,1206.0 667.4,1207.0ZM658.0,1253.0 655.0,1253.0 653.0,1250.0 653.6,1248.0 656.0,1246.1 658.0,1246.6 659.9,1249.0 659.7,1251.0Z" fill="#cc00cc" fill-rule="evenodd"/>
<path d="M602.0,783.2 589.0,783.4 585.0,782.2 574.0,776.9 561.0,776.4 555.0,774.2 549.6,769.0 546.9,765.0 544.6,758.0 544.8,750.0 545.9,747.0 550.0,741.6 555.0,738.3 560.0,736.6 575.0,735.5 595.0,739.5 602.0,738.1 606.0,736.2 608.0,734.9 609.4,732.0 609.1,729.0 606.0,721.0 607.8,715.0 612.0,710.6 616.0,707.9 623.0,705.6 626.0,705.8 631.0,708.6 637.0,714.5 641.2,722.0 643.5,732.0 643.4,738.0 642.2,744.0 639.2,753.0 636.3,759.0 634.4,762.0 631.0,765.5 612.0,779.2ZM648.0,975.2 645.0,975.4 640.0,973.4 636.0,969.2 634.6,965.0 634.6,960.0 635.8,957.0 640.0,952.6 644.0,950.6 648.0,950.8 654.0,953.9 655.7,956.0 657.4,960.0 657.2,965.0 655.2,969.0 651.0,973.4ZM679.0,1133.1 675.0,1133.5 672.0,1132.7 666.0,1129.2 662.6,1126.0 659.9,1122.0 657.2,1115.0 649.0,1102.7 632.0,1085.5 628.8,1081.0 626.3,1076.0 626.4,1071.0 625.7,1068.0 621.0,1062.3 612.0,1057.3 602.4,1054.0 584.9,1046.0 581.7,1044.0 580.1,1042.0 580.8,1040.0 582.2,1039.0 593.0,1034.7 643.0,1009.2 648.4,1004.0 657.0,991.5 659.0,989.8 662.0,988.6 668.0,989.9 677.0,994.8 685.0,1000.6 690.7,1008.0 693.4,1016.0 693.2,1029.0 689.2,1041.0 680.8,1062.0 680.5,1068.0 680.9,1070.0 683.8,1076.0 691.4,1085.0 696.0,1091.6 700.4,1105.0 700.3,1112.0 698.0,1117.8 695.0,1121.1 683.0,1131.0Z" fill="#ff00ff" fill-rule="evenodd"/>
</g>
<path d="M863.3,278.3 L870.7,284.0 L879.3,289.3 L882.7,296.0 L879.3,306.0 L871.7,315.0 L860.7,320.0 L856.7,331.7 L860.7,345.0 L864.0,358.3 L866.7,365.0 L880.0,369.3 L888.3,378.3 L896.7,390.0 L894.3,403.3 L900.0,414.0 L908.3,423.3 L900.0,433.3 L893.3,446.7" fill="none" stroke="#111" stroke-width="1.3" stroke-linejoin="round"/>
<path d="M893.3,446.7 L903.3,438.3 L913.3,427.3 L930.0,421.7 L943.3,413.3 L953.3,403.3 L956.0,388.3 L973.3,381.7 L990.0,371.7 L1006.7,360.7 L1021.7,350.0 L1035.0,341.7 L1045.0,331.7 L1054.0,324.0 L1066.7,319.3 L1086.7,313.3" fill="none" stroke="#111" stroke-width="1.3" stroke-linejoin="round"/>
<path d="M733.3,331.7 L746.7,330.0 L759.3,336.7 L766.7,346.7 L783.3,353.3 L796.7,354.0 L798.7,363.3 L810.0,373.3 L823.3,380.7 L834.0,387.3 L843.3,397.3 L850.7,410.7 L857.3,424.0 L866.7,430.7 L870.7,444.0 L881.7,455.0 L891.7,450.0" fill="none" stroke="#111" stroke-width="1.3" stroke-linejoin="round"/>
<path d="M891.7,450.0 L886.7,466.7 L881.7,480.0 L873.3,490.0 L863.3,500.0 L856.7,511.7" fill="none" stroke="#111" stroke-width="1.3" stroke-linejoin="round"/>
<path d="M856.7,511.7 L843.3,514.0 L833.3,515.0 L828.3,503.3 L820.0,491.7 L813.3,485.0 L796.7,488.3 L776.7,490.0 L766.7,480.0 L770.0,466.7 L763.3,453.3 L753.3,440.0 L740.0,430.0 L730.0,416.7 L720.0,406.7 L710.0,403.3 L700.0,406.7" fill="none" stroke="#111" stroke-width="1.3" stroke-linejoin="round"/>
<path d="M710.0,363.3 L721.7,365.7 L733.3,370.0 L743.3,380.0 L750.0,393.3 L736.7,390.0 L726.7,395.0 L720.0,406.7" fill="none" stroke="#111" stroke-width="1.3" stroke-linejoin="round"/>
<path d="M856.7,511.7 L860.0,523.3 L873.3,533.3 L886.7,536.7 L898.3,535.0 L900.0,543.3 L893.3,555.0 L885.0,563.3 L876.7,573.3 L866.7,583.3 L865.0,595.0 L856.7,598.3 L843.3,601.7" fill="none" stroke="#111" stroke-width="1.3" stroke-linejoin="round"/>
<path d="M898.3,535.0 L913.3,541.7 L930.0,546.7 L943.3,551.7 L955.0,555.0 L960.0,546.7 L966.7,538.3 L971.7,543.3 L986.7,548.3 L1000.0,551.7 L1016.7,555.0" fill="none" stroke="#111" stroke-width="1.3" stroke-linejoin="round"/>
<path d="M833.3,515.0 L823.3,523.3 L813.3,530.0 L803.3,535.0 L786.7,543.3 L770.0,550.0 L756.7,556.7 L746.7,551.7 L733.3,548.3 L713.3,550.0 L710.0,560.0 L700.0,561.7" fill="none" stroke="#111" stroke-width="1.3" stroke-linejoin="round"/>
<path d="M905.0,270.0 L908.3,258.3 L921.7,247.3 L936.0,236.7 L946.0,234.3 L950.0,246.7 L956.7,261.7 L963.3,276.7 L963.3,290.0 L976.7,296.7 L973.3,301.7 L956.7,305.0 L955.0,316.7 L940.0,321.7 L930.0,306.7 L916.7,301.7 L920.0,286.7 L913.3,276.7 L905.0,270.0" fill="none" stroke="#111" stroke-width="1.3" stroke-linejoin="round"/>
<path d="M966.7,260.0 L976.7,256.7 L983.3,268.3 L993.3,277.3 L1005.0,281.7 L1013.3,277.3 L1011.7,268.3 L1020.0,263.3 L1028.3,258.3 L1033.3,261.7" fill="none" stroke="#111" stroke-width="1.3" stroke-linejoin="round"/>
<path d="M606.9,510.4 L629.0,536.5 L653.1,548.5 L677.2,562.6 L699.3,563.0" fill="none" stroke="#111" stroke-width="1.3" stroke-linejoin="round"/>
<path d="M540.6,596.7 L556.7,608.8 L572.8,624.8 L596.9,632.9 L604.9,656.9 L608.9,661.0 L606.9,693.1 L604.9,725.2 L621.0,739.3 L616.9,741.3" fill="none" stroke="#111" stroke-width="1.3" stroke-linejoin="round"/>
<path d="M608.9,661.0 L620.2,661.8" fill="none" stroke="#111" stroke-width="1.3" stroke-linejoin="round"/>
<path d="M462.3,719.2 L500.5,729.2 L540.6,729.2 L580.8,737.3 L616.9,741.3 L616.1,761.4 L612.9,781.4 L614.9,797.5" fill="none" stroke="#111" stroke-width="1.3" stroke-linejoin="round"/>
<path d="M451.7,843.3 L468.3,836.7 L471.7,826.7 L483.3,823.3 L496.7,818.3 L513.3,810.0 L530.0,805.0 L553.3,801.7 L570.0,808.3 L586.7,815.0 L610.0,816.7 L610.0,806.7 L623.3,808.3 L633.3,805.0 L645.0,808.3 L646.7,818.3 L636.7,821.7 L620.0,821.7 L610.0,816.7" fill="none" stroke="#111" stroke-width="1.3" stroke-linejoin="round"/>
<path d="M523.3,850.0 L530.0,843.3 L543.3,841.7 L553.3,848.3 L561.7,853.3 L561.7,861.7 L550.0,863.3 L540.0,868.3 L530.0,861.7 L523.3,856.7 L523.3,850.0" fill="none" stroke="#111" stroke-width="1.3" stroke-linejoin="round"/>
<path d="M646.7,808.3 L666.7,806.7 L673.3,816.7 L675.0,836.7 L680.0,853.3 L696.7,858.3 L713.3,860.0 L743.3,860.0 L750.0,871.7 L746.7,886.7 L740.0,896.7" fill="none" stroke="#111" stroke-width="1.3" stroke-linejoin="round"/>
<path d="M423.3,906.7 L436.7,916.7 L450.0,921.7 L463.3,913.3 L476.7,903.3 L490.0,893.3 L506.7,885.0 L523.3,880.0 L540.0,880.0 L556.7,890.0 L566.7,896.7 L573.3,913.3 L570.0,936.7 L580.0,946.7 L593.3,948.3 L613.3,943.3" fill="none" stroke="#111" stroke-width="1.3" stroke-linejoin="round"/>
<path d="M613.3,943.3 L613.3,926.7 L633.3,916.7 L656.7,900.0 L680.0,880.0 L696.7,866.7 L713.3,860.0" fill="none" stroke="#111" stroke-width="1.3" stroke-linejoin="round"/>
<path d="M613.3,943.3 L610.0,960.0 L596.7,976.7 L580.0,996.7 L560.0,1020.0 L546.7,1036.7 L530.0,1060.0" fill="none" stroke="#111" stroke-width="1.3" stroke-linejoin="round"/>
<path d="M620.0,663.3 L633.3,666.7 L650.0,660.0 L670.0,643.3 L680.0,626.7 L696.7,625.0 L703.3,630.0 L720.0,623.3 L736.7,616.7 L753.3,610.0 L766.7,603.3 L780.0,598.3 L793.3,591.7 L806.7,588.3 L820.0,586.7 L833.3,581.7" fill="none" stroke="#111" stroke-width="1.3" stroke-linejoin="round"/>
<path d="M833.3,581.7 L841.7,603.3 L843.3,616.7 L856.7,626.7 L853.3,640.0 L843.3,656.7 L836.7,676.7 L836.7,700.0 L826.7,720.0 L816.7,746.7 L813.3,753.3 L825.0,760.0 L826.7,780.0 L820.0,800.0 L810.0,813.3 L796.7,823.3 L793.3,836.7 L776.7,843.3 L763.3,846.7 L756.7,860.0 L753.3,866.7 L746.7,873.3 L743.3,890.0 L753.3,906.7 L756.7,916.7" fill="none" stroke="#111" stroke-width="1.3" stroke-linejoin="round"/>
<path d="M756.7,916.7 L763.3,930.0 L773.3,943.3 L790.0,950.0 L803.3,953.3 L813.3,966.7 L826.7,980.0 L836.7,990.0 L853.3,986.7 L856.7,973.3 L866.7,953.3 L876.7,933.3 L886.7,913.3 L893.3,896.7 L886.7,886.7 L893.3,876.7 L903.3,870.0 L916.7,871.7" fill="none" stroke="#111" stroke-width="1.3" stroke-linejoin="round"/>
<path d="M756.7,916.7 L736.7,926.7 L720.0,936.7 L710.7,946.7" fill="none" stroke="#111" stroke-width="1.3" stroke-linejoin="round"/>
<path d="M530.0,1060.0 L533.3,1053.3 L523.3,1056.7 L513.3,1063.3 L503.3,1066.7 L490.0,1063.3 L476.7,1065.0 L463.3,1060.0 L446.7,1056.7" fill="none" stroke="#111" stroke-width="1.3" stroke-linejoin="round"/>
<path d="M535.0,1220.0 L536.7,1200.0 L540.0,1180.0 L541.7,1160.0 L536.7,1140.0 L543.3,1120.0 L546.7,1103.3 L550.0,1086.7 L566.7,1083.3 L583.3,1080.0 L596.7,1073.3 L613.3,1070.0 L626.7,1073.3 L636.7,1071.7 L656.7,1083.3 L673.3,1078.3 L690.0,1073.3" fill="none" stroke="#111" stroke-width="1.3" stroke-linejoin="round"/>
<path d="M710.0,940.0 L700.0,966.7 L693.3,1000.0 L680.0,1033.3 L680.0,1053.3 L690.0,1073.3 L700.0,1093.3 L705.0,1113.3 L700.0,1130.0 L673.3,1136.7 L663.3,1143.3 L656.7,1166.7 L646.7,1190.0 L651.7,1206.7 L656.7,1223.3 L663.3,1236.7 L651.7,1243.3 L653.3,1256.7 L663.3,1263.3 L666.7,1276.7 L670.0,1290.0 L683.3,1295.0 L696.7,1300.0 L705.0,1298.3" fill="none" stroke="#111" stroke-width="1.3" stroke-linejoin="round"/>
<path d="M424.2,899.9 L430.2,889.9 L436.2,873.8 L431.4,859.8 L428.2,841.7 L434.2,825.6 L428.2,805.5 L430.2,789.5 L440.2,769.4 L442.2,749.3 L448.3,737.3 L462.3,719.2 L476.4,701.1 L486.4,685.1 L496.5,665.0 L504.5,648.9 L516.5,632.9 L528.6,614.8 L540.6,596.7 L552.7,584.7 L562.7,564.6 L576.8,544.5 L592.9,524.4 L606.9,510.4 L621.0,492.3 L631.0,472.2 L641.0,452.1 L661.1,432.0 L680.2,421.0 L694.3,404.9 L702.3,388.8 L706.3,372.8 L709.2,362.7 L720.4,348.7 L734.5,332.6 L746.5,316.5 L756.5,300.5 L768.6,291.6 L784.7,283.6 L800.7,276.4 L820.8,270.4 L844.9,265.1 L865.0,262.3 L877.0,256.3 L887.1,246.3 L893.1,236.2 L899.1,226.2 L903.1,218.2 L915.2,212.1 L925.2,206.1 L935.3,202.9 L947.3,203.3 L957.3,206.1 L964.6,214.1 L969.4,224.2 L977.4,232.2 L987.5,240.2 L1001.5,247.5 L1015.6,252.3 L1029.6,258.3 L1045.7,262.3 L1061.8,264.3 L1073.0,266.3 L1073.8,278.4 L1077.8,290.4 L1087.9,298.5 L1101.9,305.3 L1091.9,312.5 L1073.8,318.6 L1059.8,324.6 L1047.7,334.6 L1039.7,346.7 L1033.7,360.7 L1032.9,380.8 L1035.7,398.9 L1040.9,416.9 L1045.7,433.0 L1051.7,447.1 L1056.9,453.1 L1053.7,467.1 L1048.9,479.2 L1045.7,491.2 L1039.7,501.3 L1029.6,509.3 L1023.6,521.4 L1019.6,537.4 L1017.6,553.5 L1011.6,563.5 L999.5,575.6 L987.5,587.6 L977.4,601.7 L974.2,615.7 L968.6,629.8 L966.2,641.8 L970.2,653.9 L971.4,665.9 L965.4,678.0 L959.4,692.0 L957.3,706.1 L952.5,720.2 L946.1,736.2 L941.3,750.3 L938.1,766.3 L935.7,779.9 L933.3,796.4 L927.2,820.5 L922.0,844.6 L918.0,868.7 L913.2,888.8 L907.1,904.8 L897.1,924.9 L889.1,945.0 L885.1,957.0 L887.1,973.1 L893.1,982.3 L881.0,987.1 L871.0,995.2 L865.0,1009.2 L859.0,1025.3 L850.9,1039.4 L840.9,1053.4 L830.8,1067.5 L818.8,1075.5 L808.8,1085.5 L812.0,1097.6 L804.7,1109.6 L792.7,1121.7 L780.6,1131.7 L766.6,1141.8 L754.5,1153.8 L746.5,1167.9 L738.5,1181.9 L730.4,1198.0 L722.4,1216.1 L715.6,1234.1 L709.2,1254.2 L704.3,1274.3 L702.5,1300.0 L703.3,1317.7 L701.3,1337.8 L704.5,1349.8 L701.3,1365.9 L704.5,1379.9 L697.3,1392.0 L688.4,1398.0 L686.0,1410.0 L691.2,1420.1 L687.2,1422.9 L681.2,1414.1 L675.2,1408.0 L661.1,1404.0 L653.1,1402.0 L648.3,1410.0 L643.1,1414.1 L637.8,1408.0 L637.0,1398.0 L631.0,1385.9 L629.8,1373.9 L633.0,1357.8 L628.2,1341.8 L625.8,1321.7 L624.2,1305.6 L616.9,1295.6 L610.9,1281.5 L600.1,1267.5 L588.8,1255.4 L572.8,1241.4 L556.7,1229.3 L540.6,1219.3 L526.6,1213.3 L512.5,1207.2 L498.5,1199.2 L488.4,1189.2 L478.4,1173.1 L473.2,1157.0 L475.6,1136.9 L466.3,1116.9 L456.3,1096.8 L450.3,1080.7 L446.3,1060.6 L440.2,1040.6 L428.2,1024.5 L412.1,1012.4 L398.1,1004.4 L392.0,998.4 L398.1,984.3 L404.1,968.3 L410.1,952.2 L414.1,936.1 L418.2,920.1 L422.2,906.0Z" fill="none" stroke="#111" stroke-width="1.4" stroke-linejoin="round"/>
<text x="482" y="47" font-family="'Noto Serif CJK SC','Liberation Serif',serif" font-size="41" font-weight="500" fill="#1a1a1a" textLength="266" lengthAdjust="spacing">定量降水預報</text>
<text x="750" y="47" font-family="'Noto Serif CJK SC','Liberation Serif',serif" font-size="41" fill="#1a1a1a">（</text>
<text x="819" y="45" font-family="'Liberation Serif','Noto Serif CJK SC',serif" font-size="42" fill="#1a1a1a" text-anchor="middle">I</text>
<text x="848" y="47" font-family="'Noto Serif CJK SC','Liberation Serif',serif" font-size="41" fill="#1a1a1a">）</text>
<text x="50" y="93" font-family="'Noto Serif CJK SC','Liberation Serif',serif" font-size="41.5" font-weight="300" fill="#1a1a1a" textLength="166" lengthAdjust="spacingAndGlyphs">發布時間</text>
<text x="228" y="93" font-family="'Liberation Serif','Noto Serif CJK SC',serif" font-size="42" fill="#1a1a1a">:</text>
<text x="252" y="93" font-family="'Liberation Serif','Noto Serif CJK SC',serif" font-size="42" fill="#1a1a1a" textLength="281" lengthAdjust="spacingAndGlyphs">2025/08/03 11:30</text>
<text x="50" y="138" font-family="'Noto Serif CJK SC','Liberation Serif',serif" font-size="41.5" font-weight="300" fill="#1a1a1a" textLength="166" lengthAdjust="spacingAndGlyphs">有效時間</text>
<text x="228" y="138" font-family="'Liberation Serif','Noto Serif CJK SC',serif" font-size="42" fill="#1a1a1a">:</text>
<text x="252" y="138" font-family="'Liberation Serif','Noto Serif CJK SC',serif" font-size="42" fill="#1a1a1a" textLength="281" lengthAdjust="spacingAndGlyphs">2025/08/03 08:00</text>
<text x="600" y="138" font-family="'Liberation Serif','Noto Serif CJK SC',serif" font-size="42" fill="#1a1a1a" textLength="282" lengthAdjust="spacingAndGlyphs">2025/08/03 20:00</text>
<text x="547" y="135" font-family="'Noto Serif CJK SC','Liberation Serif',serif" font-size="40" fill="#1a1a1a" textLength="40" lengthAdjust="spacingAndGlyphs">～</text>
<text x="1066" y="1467" lang="zh-Hant" xml:lang="zh-Hant" text-anchor="middle" font-family="'Noto Serif CJK SC','Liberation Serif',serif" font-size="35.5" font-weight="300" fill="#222">單位：毫米</text>
<text x="934.5" y="1467" lang="zh-Hant" font-family="'Noto Serif CJK SC','Liberation Serif',serif" font-size="35.5" font-weight="300" fill="#222">（</text>
<text x="1162" y="1467" lang="zh-Hant" font-family="'Noto Serif CJK SC','Liberation Serif',serif" font-size="35.5" font-weight="300" fill="#222">）</text>
<text x="1079" y="745" font-family="'Noto Serif CJK SC','Liberation Serif',serif" font-size="25" fill="#777">≧</text>
<ellipse cx="195.4" cy="1358.4" rx="138.3" ry="78" fill="#262c63"/>
<path d="M68.7,1356.4 C70.9,1355.1 76.7,1350.6 81.7,1348.8 C86.8,1347.0 93.6,1345.5 99.0,1345.5 C104.4,1345.5 109.5,1347.5 114.2,1348.8 C118.9,1350.1 122.9,1352.2 127.2,1353.1 C131.5,1354.0 136.2,1354.5 140.2,1354.2 C144.2,1353.9 148.0,1352.8 151.1,1351.0 C154.2,1349.2 156.5,1346.5 158.7,1343.4 C160.9,1340.3 162.1,1336.1 164.1,1332.5 C166.1,1328.9 168.1,1324.6 170.6,1321.7 C173.1,1318.8 176.1,1316.6 179.3,1315.2 C182.6,1313.8 186.5,1313.1 190.1,1313.4 C193.7,1313.8 197.9,1315.4 201.0,1317.3 C204.1,1319.2 206.9,1322.0 208.6,1324.9 C210.3,1327.8 210.6,1331.6 211.2,1334.7 C211.8,1337.8 211.3,1341.1 212.2,1343.4 C213.1,1345.7 214.5,1348.2 216.6,1348.6 C218.7,1348.9 221.3,1346.5 224.8,1345.5 C228.3,1344.5 233.5,1343.1 237.8,1342.9 C242.1,1342.7 246.5,1343.3 250.8,1344.5 C255.2,1345.7 259.5,1347.9 263.9,1349.9 C268.2,1352.0 272.6,1354.7 276.9,1356.8 C281.2,1358.9 285.2,1361.1 289.9,1362.5 C294.6,1363.9 299.9,1365.2 305.1,1365.1 C310.3,1365.0 318.6,1362.3 321.3,1361.8 C324.0,1361.2 323.5,1360.5 321.3,1361.8 C319.1,1363.1 313.4,1367.6 308.3,1369.4 C303.2,1371.2 296.4,1372.7 291.0,1372.7 C285.6,1372.7 280.5,1370.7 275.8,1369.4 C271.1,1368.1 267.1,1366.0 262.8,1365.1 C258.5,1364.2 253.8,1363.7 249.8,1364.0 C245.8,1364.3 242.0,1365.4 238.9,1367.2 C235.8,1369.0 233.5,1371.7 231.3,1374.8 C229.1,1377.9 227.9,1382.1 225.9,1385.7 C223.9,1389.3 221.9,1393.6 219.4,1396.5 C216.9,1399.4 213.9,1401.6 210.7,1403.0 C207.4,1404.4 203.5,1405.1 199.9,1404.7 C196.3,1404.3 192.1,1402.7 189.0,1400.8 C185.9,1398.9 183.1,1396.2 181.4,1393.3 C179.7,1390.4 179.4,1386.6 178.8,1383.5 C178.2,1380.4 178.7,1377.1 177.8,1374.8 C176.9,1372.5 175.5,1369.9 173.4,1369.6 C171.3,1369.2 168.7,1371.8 165.2,1372.7 C161.7,1373.7 156.5,1375.1 152.2,1375.3 C147.9,1375.5 143.5,1374.9 139.2,1373.7 C134.8,1372.5 130.4,1370.3 126.1,1368.3 C121.8,1366.2 117.4,1363.5 113.1,1361.4 C108.8,1359.3 104.8,1357.1 100.1,1355.7 C95.4,1354.3 90.1,1353.0 84.9,1353.1 C79.7,1353.2 71.4,1355.9 68.7,1356.4 C66.0,1357.0 66.5,1357.7 68.7,1356.4Z" fill="#fff"/>
<path d="M213.5,1344.5 C212.1,1344.6 209.7,1346.6 207.9,1347.1 C206.1,1347.6 203.3,1348.1 201.4,1348.1 C199.5,1348.1 196.9,1347.5 195.3,1346.8 C193.7,1346.1 191.2,1344.3 190.8,1343.4 C190.4,1342.5 191.7,1341.3 192.7,1340.8 C193.7,1340.3 196.3,1340.9 197.5,1340.3 C198.7,1339.7 200.2,1338.0 200.5,1336.9 C200.8,1335.8 200.1,1334.0 199.2,1333.0 C198.3,1332.0 196.2,1330.9 194.5,1330.4 C192.8,1329.9 189.9,1329.6 188.0,1329.9 C186.1,1330.2 183.3,1331.2 181.9,1332.5 C180.5,1333.8 179.0,1336.7 178.4,1338.6 C177.8,1340.5 177.8,1343.2 178.2,1345.1 C178.6,1347.0 179.9,1349.8 181.4,1351.2 C182.9,1352.6 185.9,1354.0 188.4,1354.7 C190.9,1355.4 194.8,1356.1 197.9,1356.0 C201.0,1355.9 205.9,1355.0 208.8,1354.2 C211.7,1353.4 216.2,1351.8 217.4,1350.7 C218.6,1349.6 217.6,1347.5 217.0,1346.6 C216.4,1345.7 214.9,1344.4 213.5,1344.5Z" fill="#262c63"/>
<path d="M176.5,1373.7 C177.9,1373.6 180.3,1371.7 182.1,1371.1 C183.9,1370.5 186.7,1370.0 188.6,1370.0 C190.5,1370.0 193.1,1370.7 194.7,1371.4 C196.3,1372.1 198.8,1373.9 199.2,1374.8 C199.6,1375.7 198.3,1376.9 197.3,1377.4 C196.3,1377.9 193.7,1377.3 192.5,1377.9 C191.3,1378.5 189.8,1380.2 189.5,1381.3 C189.2,1382.4 189.9,1384.2 190.8,1385.2 C191.7,1386.2 193.8,1387.3 195.5,1387.8 C197.2,1388.3 200.2,1388.6 202.1,1388.3 C204.0,1388.0 206.7,1387.0 208.1,1385.7 C209.5,1384.4 211.0,1381.5 211.6,1379.6 C212.2,1377.7 212.2,1375.0 211.8,1373.1 C211.4,1371.2 210.1,1368.4 208.6,1367.0 C207.1,1365.6 204.1,1364.2 201.6,1363.5 C199.1,1362.8 195.2,1362.1 192.1,1362.2 C189.0,1362.3 184.1,1363.2 181.2,1364.0 C178.3,1364.8 173.8,1366.3 172.6,1367.4 C171.4,1368.5 172.4,1370.7 173.0,1371.6 C173.6,1372.5 175.1,1373.8 176.5,1373.7Z" fill="#262c63"/>
<path d="M224.0,821.2 L232.5,815.6 L240.9,818.4 L243.7,810.0 L252.1,815.6 L257.8,810.0 L263.4,814.2 L266.2,810.0 L269.0,818.4 L273.2,826.8 L266.2,828.2 L260.6,829.6 L252.1,828.2 L243.7,832.5 L238.1,838.1 L240.9,843.7 L232.5,845.1 L228.2,843.7 L231.0,838.1 L235.3,832.5 L229.6,828.2 L225.4,825.4Z" fill="#ffcc00" stroke="#111" stroke-width="1.1" stroke-linejoin="round"/>
<path d="M217.0,828.2 L221.2,831.0 L222.6,835.3 L228.2,836.7 L226.8,839.5 L221.2,838.1 L217.8,833.9Z" fill="#eef7fd" stroke="#111" stroke-width="1.1" stroke-linejoin="round"/>
<path d="M191.7,826.3 L200.1,821.2 L203.8,812.8 L204.3,802.9 L207.7,794.5 L212.8,795.9 L210.5,804.3 L209.4,814.2 L207.2,822.6 L201.5,824.6 L195.9,826.3Z" fill="#ffff00" stroke="#111" stroke-width="1.1" stroke-linejoin="round"/>
<path d="M217.0,797.3 L221.2,788.9 L231.0,785.2 L238.1,788.0 L241.5,794.5 L237.5,800.1 L241.5,807.2 L244.3,810.5 L241.5,812.8 L236.7,804.3 L234.7,795.3 L230.2,790.8 L224.0,791.7 L220.6,797.3Z" fill="#ffff00" stroke="#111" stroke-width="1.1" stroke-linejoin="round"/>
<path d="M237.5,765.0 L240.9,758.0 L245.9,756.5 L247.1,760.8 L242.3,766.4Z" fill="#ffcc00" stroke="#111" stroke-width="1.1" stroke-linejoin="round"/>
<path d="M205.7,852.1 L217.0,848.8 L217.8,850.7 L207.2,854.4Z" fill="#ffcc00" stroke="#111" stroke-width="0.9" stroke-linejoin="round"/>
<path d="M198.7,886.4 L203.2,885.3 L206.6,892.1 L204.3,899.9 L199.3,899.9Z" fill="#0166ff" stroke="#111" stroke-width="1.1" stroke-linejoin="round"/>
<path d="M170.0,950.0 L184.1,948.3 L182.4,956.2 L177.6,959.5 L172.9,956.2Z" fill="#00ccff" stroke="#111" stroke-width="1.1" stroke-linejoin="round"/>
<path d="M381.5,859.2 L413.8,839.5 L415.8,843.7 L385.7,863.4 L388.5,870.4 L385.7,870.4 L382.0,862.0Z" fill="#ff9900" stroke="#111" stroke-width="1.1" stroke-linejoin="round"/>
<path d="M415.2,835.3 L422.2,828.2 L425.0,831.0 L418.0,838.1Z" fill="#ff3300" stroke="#111" stroke-width="0.9" stroke-linejoin="round"/>
<circle cx="138.3" cy="882.5" r="1.4" fill="#111"/>
<circle cx="139.7" cy="911.7" r="1.4" fill="#111"/>
<circle cx="143.9" cy="913.4" r="1.4" fill="#111"/>
<circle cx="204.3" cy="930.3" r="1.4" fill="#111"/>
<circle cx="208.6" cy="935.1" r="1.4" fill="#111"/>
<circle cx="243.7" cy="937.9" r="1.4" fill="#111"/>
<circle cx="263.4" cy="935.9" r="1.4" fill="#111"/>
<circle cx="210.0" cy="894.3" r="1.4" fill="#111"/>
<circle cx="215.6" cy="895.7" r="1.4" fill="#111"/>
<circle cx="239.5" cy="746.7" r="1.4" fill="#111"/>
<circle cx="241.5" cy="750.9" r="1.4" fill="#111"/>
<circle cx="222.6" cy="770.6" r="1.4" fill="#111"/>
<circle cx="260.6" cy="780.4" r="1.4" fill="#111"/>
<circle cx="263.4" cy="786.1" r="1.4" fill="#111"/>
<circle cx="252.1" cy="794.5" r="1.4" fill="#111"/>
<circle cx="273.2" cy="804.3" r="1.4" fill="#111"/>
<circle cx="224.0" cy="780.4" r="1.4" fill="#111"/>
<circle cx="236.7" cy="739.7" r="1.4" fill="#111"/>
<circle cx="229.6" cy="748.1" r="1.4" fill="#111"/>
<circle cx="190.3" cy="899.9" r="1.4" fill="#111"/>
<circle cx="209.4" cy="843.7" r="1.4" fill="#111"/>
<circle cx="283.1" cy="828.2" r="1.4" fill="#111"/>
<circle cx="273.2" cy="833.9" r="1.4" fill="#111"/>
<circle cx="429.2" cy="821.2" r="1.4" fill="#111"/>
<circle cx="432.1" cy="866.2" r="1.4" fill="#111"/>
<circle cx="434.9" cy="877.4" r="1.4" fill="#111"/>
<circle cx="210.0" cy="793.7" r="1.4" fill="#111"/>
<path d="M907.6,1143.8 L915.2,1145.0 L923.2,1142.6 L924.0,1151.8 L920.4,1159.0 L915.2,1155.8 L910.0,1151.8Z" fill="#0099ff" stroke="#111" stroke-width="1.1" stroke-linejoin="round"/>
<path d="M920.5,1357.5 L928.4,1356.6 L938.6,1358.1 L945.1,1355.8 L946.8,1364.0 L945.1,1369.8 L951.8,1374.2 L956.8,1378.6 L955.6,1384.5 L950.4,1386.8 L943.0,1383.0 L935.7,1378.6 L928.4,1374.2 L923.4,1368.4 L924.0,1362.5Z" fill="#0099ff" stroke="#111" stroke-width="1.1" stroke-linejoin="round"/>
<circle cx="959.7" cy="1404.4" r="2" fill="#111"/>
<path d="M509.3,1266.3 L513.3,1260.6 L519.0,1258.6 L520.6,1262.7 L516.5,1267.5 L511.7,1270.3Z" fill="#66ddff" stroke="#111" stroke-width="1.1" stroke-linejoin="round"/>
<path d="M1076.7,366.0 L1080.7,363.3 L1086.0,364.7 L1086.7,368.0 L1081.7,370.0 L1077.7,369.0Z" fill="none" stroke="#111" stroke-width="0.9" stroke-linejoin="round"/>
<circle cx="1021.7" cy="240.7" r="1.5" fill="#111"/>
<path d="M171.3,603.7 L175.4,574.4 L188.0,564.0 L204.7,574.4 L217.2,578.6 L227.7,566.1 L233.9,551.4 L244.4,543.1 L259.0,547.3 L267.3,561.9 L273.6,574.4 L280.7,589.0 L273.6,601.6 L263.2,612.0 L252.7,612.0 L244.4,599.5 L229.7,595.3 L213.0,603.7 L204.7,616.2 L196.3,624.5 L183.8,620.4 L175.4,612.0Z" fill="#00ccff" stroke="#111" stroke-width="1.1" stroke-linejoin="round"/>
<path d="M179.6,572.3 L188.0,564.8 L204.7,575.3 L217.2,579.4 L227.7,566.9 L233.9,552.3 L244.4,543.9 L259.0,548.1 L267.3,561.9 L271.5,570.2 L250.6,578.6 L233.9,591.1 L217.2,595.3 L204.7,582.8 L192.1,574.4Z" fill="#99ffff"/>
<path d="M255.6,599.5 L271.5,593.2 L273.6,601.6 L263.2,611.2 L253.6,611.2Z" fill="#0099ff"/>
<path d="M171.3,603.7 L175.4,574.4 L188.0,564.0 L204.7,574.4 L217.2,578.6 L227.7,566.1 L233.9,551.4 L244.4,543.1 L259.0,547.3 L267.3,561.9 L273.6,574.4 L280.7,589.0 L273.6,601.6 L263.2,612.0 L252.7,612.0 L244.4,599.5 L229.7,595.3 L213.0,603.7 L204.7,616.2 L196.3,624.5 L183.8,620.4 L175.4,612.0Z" fill="none" stroke="#111" stroke-width="1.1" stroke-linejoin="round"/>
<path d="M134.5,609.9 L139.9,591.1 L150.4,586.1 L160.8,590.3 L162.9,599.5 L154.6,605.7 L144.1,614.1Z" fill="#0099ff" stroke="#111" stroke-width="1.1" stroke-linejoin="round"/>
<circle cx="122.4" cy="619.1" r="1.3" fill="#111"/>
<circle cx="126.1" cy="596.1" r="1.3" fill="#111"/>
<circle cx="132.8" cy="587.8" r="1.3" fill="#111"/>
<circle cx="167.1" cy="586.1" r="1.3" fill="#111"/>
<path d="M223.5,265.3 L227.7,257.0 L236.0,252.8 L241.4,259.0 L238.1,269.5 L229.7,274.5 L224.7,271.6Z" fill="none" stroke="#111" stroke-width="0.9" stroke-linejoin="round"/>
<path d="M245.6,302.9 L250.6,294.6 L261.1,289.5 L269.4,290.4 L263.2,296.6 L254.8,300.8 L249.8,306.2Z" fill="none" stroke="#111" stroke-width="0.9" stroke-linejoin="round"/>
<path d="M210.1,334.2 L225.6,325.9 L240.2,315.4 L250.6,310.4 L254.8,321.7 L267.3,323.8 L271.5,340.5 L267.3,346.8 L261.1,334.2 L250.6,330.1 L240.2,338.4 L225.6,340.5 L213.0,344.7Z" fill="#c1c1c1" stroke="#111" stroke-width="0.9" stroke-linejoin="round"/>
<path d="M207.6,345.5 L213.0,343.8 L218.0,348.9 L220.1,367.7 L215.1,367.7 L208.9,363.5Z" fill="none" stroke="#111" stroke-width="0.9" stroke-linejoin="round"/>
<path d="M135.8,428.2 L144.1,407.3 L146.2,390.6 L158.7,394.8 L160.8,407.3 L171.3,415.7 L179.6,403.2 L196.3,399.0 L210.9,399.0 L204.7,411.5 L188.0,419.9 L171.3,428.2 L156.6,436.6 L142.0,432.4Z" fill="none" stroke="#111" stroke-width="0.9" stroke-linejoin="round"/>
<path d="M213.0,399.8 L216.4,398.1 L217.2,405.2 L213.9,407.3Z" fill="none" stroke="#111" stroke-width="0.9" stroke-linejoin="round"/>
<circle cx="249.4" cy="255.3" r="1.3" fill="#111"/>
<circle cx="241.4" cy="286.2" r="1.3" fill="#111"/>
<circle cx="267.3" cy="310.4" r="1.3" fill="#111"/>
<circle cx="185.0" cy="364.7" r="1.3" fill="#111"/>
<circle cx="226.4" cy="374.8" r="1.3" fill="#111"/>
<circle cx="206.8" cy="428.2" r="1.3" fill="#111"/>
<path d="M389.3,273.7 L394.7,263.2 L404.3,262.0 L407.3,273.7 L417.7,275.8 L426.1,267.4 L436.5,274.5 L443.6,282.0 L434.4,284.1 L424.0,292.5 L413.5,294.6 L407.3,299.6 L404.3,286.2 L396.8,277.8Z" fill="none" stroke="#111" stroke-width="0.9" stroke-linejoin="round"/>
<path d="M373.9,404.0 L386.4,399.8 L404.3,399.8 L403.1,407.3 L392.6,413.6 L386.4,417.8 L380.1,409.4Z" fill="none" stroke="#111" stroke-width="0.9" stroke-linejoin="round"/>
<path d="M421.1,438.7 L428.2,428.2 L438.6,419.9 L449.0,413.6 L456.1,414.9 L451.1,424.0 L440.7,432.4 L430.2,439.9 L424.0,442.8Z" fill="none" stroke="#111" stroke-width="0.9" stroke-linejoin="round"/>
<path d="M421.1,447.0 L425.2,444.9 L424.4,451.2 L421.1,452.0Z" fill="none" stroke="#111" stroke-width="0.9" stroke-linejoin="round"/>
<circle cx="426.9" cy="410.7" r="1.5" fill="#111"/>
<circle cx="438.6" cy="410.7" r="1.5" fill="#111"/>
<circle cx="460.3" cy="399.8" r="1.5" fill="#111"/>
<circle cx="369.7" cy="407.3" r="1.5" fill="#111"/>
<rect x="1159.5" y="689.8" width="36" height="42.03" fill="#ffccff" stroke="#222" stroke-width="1"/>
<rect x="1159.5" y="731.8" width="36" height="42.03" fill="#ff00ff" stroke="#222" stroke-width="1"/>
<rect x="1159.5" y="773.9" width="36" height="42.03" fill="#cc00cc" stroke="#222" stroke-width="1"/>
<rect x="1159.5" y="815.9" width="36" height="42.03" fill="#990099" stroke="#222" stroke-width="1"/>
<rect x="1159.5" y="857.9" width="36" height="42.03" fill="#990000" stroke="#222" stroke-width="1"/>
<rect x="1159.5" y="899.9" width="36" height="42.03" fill="#cc0000" stroke="#222" stroke-width="1"/>
<rect x="1159.5" y="942.0" width="36" height="42.03" fill="#ff0000" stroke="#222" stroke-width="1"/>
<rect x="1159.5" y="984.0" width="36" height="42.03" fill="#ff9900" stroke="#222" stroke-width="1"/>
<rect x="1159.5" y="1026.0" width="36" height="42.03" fill="#ffcc00" stroke="#222" stroke-width="1"/>
<rect x="1159.5" y="1068.1" width="36" height="42.03" fill="#ffff00" stroke="#222" stroke-width="1"/>
<rect x="1159.5" y="1110.1" width="36" height="42.03" fill="#33ff00" stroke="#222" stroke-width="1"/>
<rect x="1159.5" y="1152.1" width="36" height="42.03" fill="#329900" stroke="#222" stroke-width="1"/>
<rect x="1159.5" y="1194.2" width="36" height="42.03" fill="#0166ff" stroke="#222" stroke-width="1"/>
<rect x="1159.5" y="1236.2" width="36" height="42.03" fill="#0099ff" stroke="#222" stroke-width="1"/>
<rect x="1159.5" y="1278.2" width="36" height="42.03" fill="#00ccff" stroke="#222" stroke-width="1"/>
<rect x="1159.5" y="1320.2" width="36" height="42.03" fill="#99ffff" stroke="#222" stroke-width="1"/>
<rect x="1159.5" y="1362.3" width="36" height="42.03" fill="#c1c1c1" stroke="#222" stroke-width="1"/>
<text x="1156.5" y="745.1" text-anchor="end" font-family="'Liberation Serif',serif" font-size="34" textLength="47" lengthAdjust="spacingAndGlyphs" fill="#333">300</text>
<text x="1156.5" y="787.2" text-anchor="end" font-family="'Liberation Serif',serif" font-size="34" textLength="47" lengthAdjust="spacingAndGlyphs" fill="#333">200</text>
<text x="1156.5" y="829.2" text-anchor="end" font-family="'Liberation Serif',serif" font-size="34" textLength="47" lengthAdjust="spacingAndGlyphs" fill="#333">150</text>
<text x="1156.5" y="871.2" text-anchor="end" font-family="'Liberation Serif',serif" font-size="34" textLength="47" lengthAdjust="spacingAndGlyphs" fill="#333">130</text>
<text x="1156.5" y="913.2" text-anchor="end" font-family="'Liberation Serif',serif" font-size="34" textLength="47" lengthAdjust="spacingAndGlyphs" fill="#333">110</text>
<text x="1156.5" y="955.3" text-anchor="end" font-family="'Liberation Serif',serif" font-size="34" textLength="31" lengthAdjust="spacingAndGlyphs" fill="#333">90</text>
<text x="1156.5" y="997.3" text-anchor="end" font-family="'Liberation Serif',serif" font-size="34" textLength="31" lengthAdjust="spacingAndGlyphs" fill="#333">70</text>
<text x="1156.5" y="1039.3" text-anchor="end" font-family="'Liberation Serif',serif" font-size="34" textLength="31" lengthAdjust="spacingAndGlyphs" fill="#333">50</text>
<text x="1156.5" y="1081.4" text-anchor="end" font-family="'Liberation Serif',serif" font-size="34" textLength="31" lengthAdjust="spacingAndGlyphs" fill="#333">40</text>
<text x="1156.5" y="1123.4" text-anchor="end" font-family="'Liberation Serif',serif" font-size="34" textLength="31" lengthAdjust="spacingAndGlyphs" fill="#333">30</text>
<text x="1156.5" y="1165.4" text-anchor="end" font-family="'Liberation Serif',serif" font-size="34" textLength="31" lengthAdjust="spacingAndGlyphs" fill="#333">20</text>
<text x="1156.5" y="1207.5" text-anchor="end" font-family="'Liberation Serif',serif" font-size="34" textLength="31" lengthAdjust="spacingAndGlyphs" fill="#333">15</text>
<text x="1156.5" y="1249.5" text-anchor="end" font-family="'Liberation Serif',serif" font-size="34" textLength="31" lengthAdjust="spacingAndGlyphs" fill="#333">10</text>
<text x="1156.5" y="1291.5" text-anchor="end" font-family="'Liberation Serif',serif" font-size="34" textLength="15.5" lengthAdjust="spacingAndGlyphs" fill="#333">5</text>
<text x="1156.5" y="1333.5" text-anchor="end" font-family="'Liberation Serif',serif" font-size="34" textLength="15.5" lengthAdjust="spacingAndGlyphs" fill="#333">2</text>
<text x="1156.5" y="1375.6" text-anchor="end" font-family="'Liberation Serif',serif" font-size="34" textLength="15.5" lengthAdjust="spacingAndGlyphs" fill="#333">1</text>
<text x="1156.5" y="1417.6" text-anchor="end" font-family="'Liberation Serif',serif" font-size="34" textLength="47" lengthAdjust="spacingAndGlyphs" fill="#333">0.5</text>
</svg>
</body></html>
